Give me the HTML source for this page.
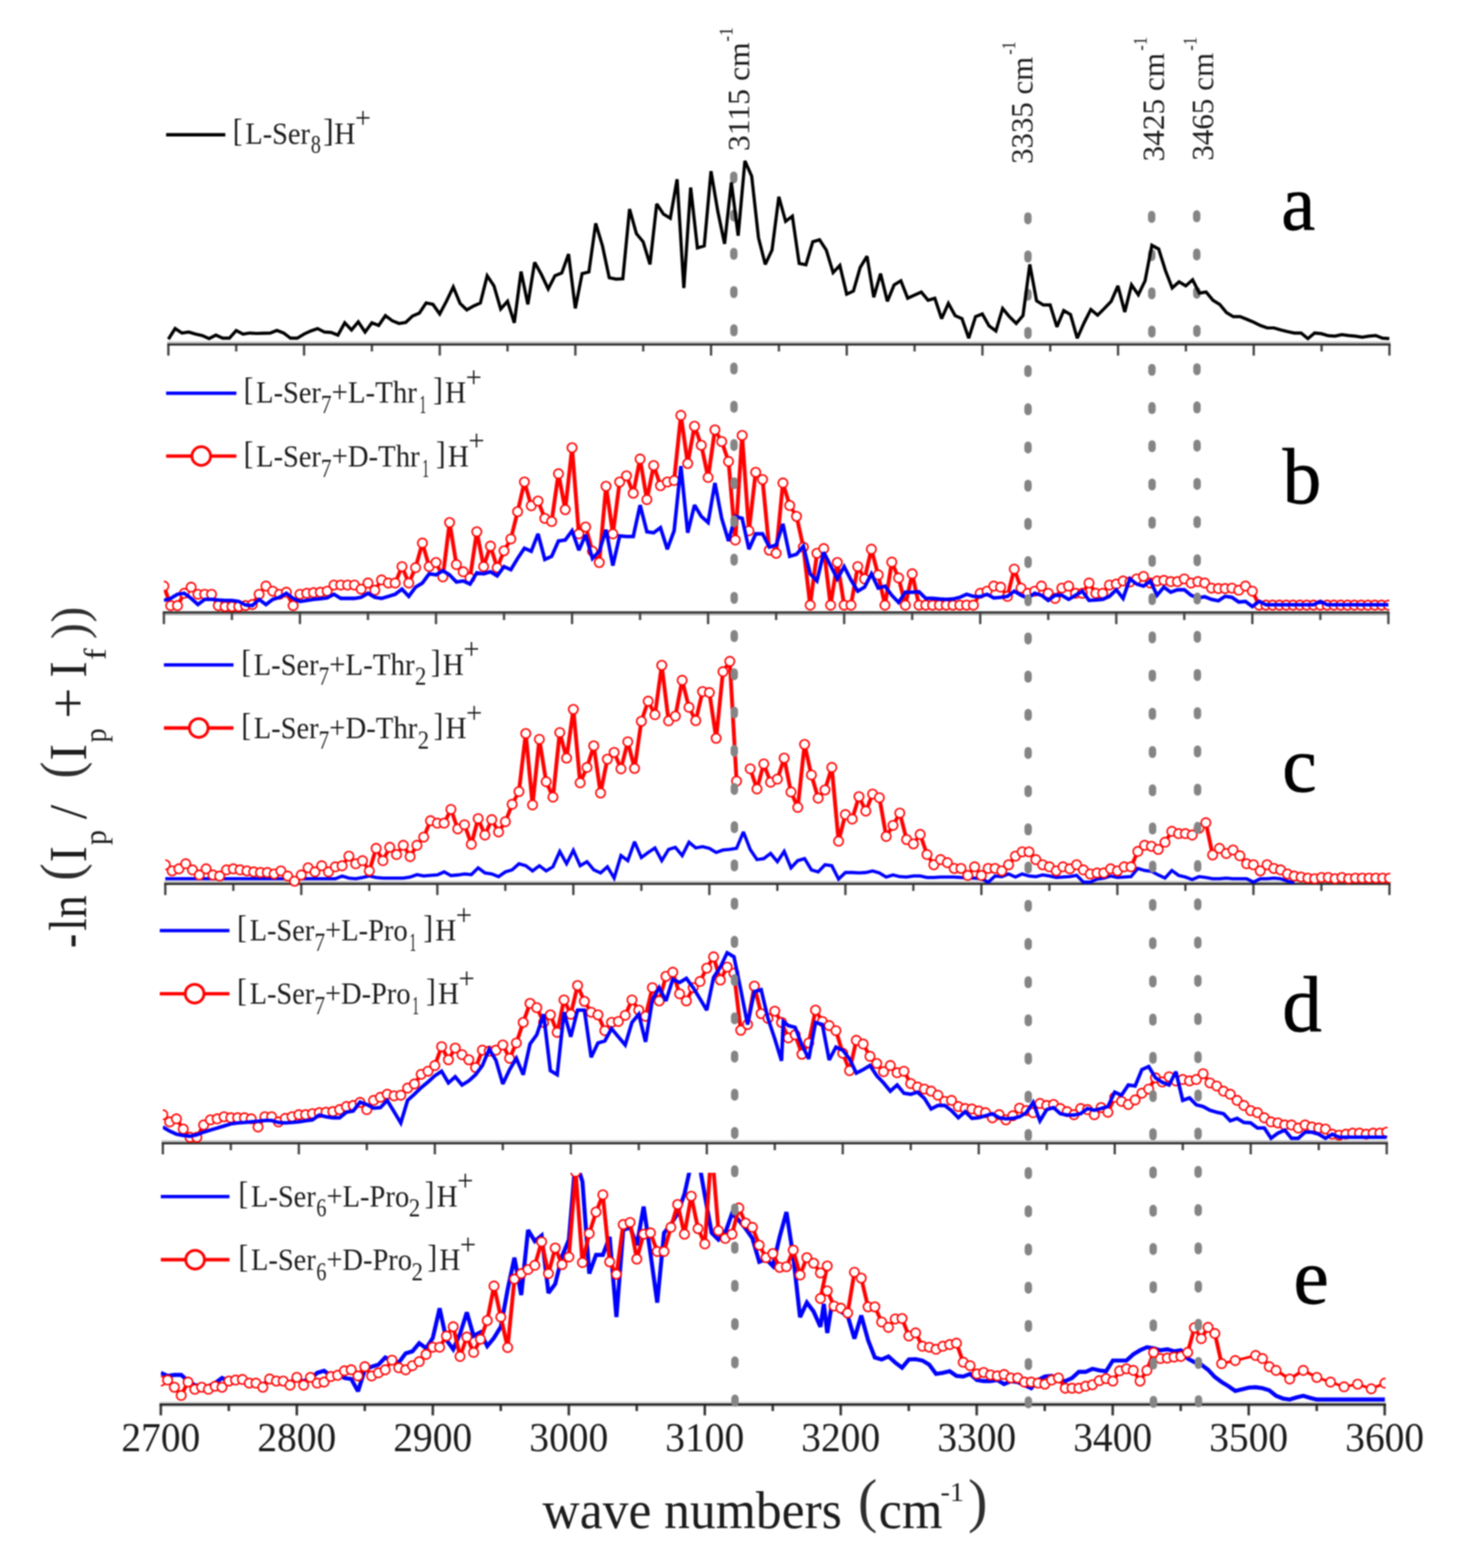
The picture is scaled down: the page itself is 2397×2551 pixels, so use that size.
<!DOCTYPE html>
<html lang="en"><head><meta charset="utf-8"><title>IRMPD spectra of serine octamer clusters</title>
<style>html,body{margin:0;padding:0;background:#fff}body{width:2397px;height:2551px;overflow:hidden}svg{display:block;filter:blur(1.2px)}</style>
</head><body>
<svg width="2397" height="2551" viewBox="0 0 2397 2551" role="img" aria-label="IRMPD spectra, panels a to e">
<rect width="2397" height="2551" fill="#fff"/>
<defs>
<clipPath id="cpa"><rect x="274.0" y="150.0" width="1988.5" height="421.5"/></clipPath>
<clipPath id="cpb"><rect x="266.7" y="600.0" width="1994.1" height="408.4"/></clipPath>
<clipPath id="cpc"><rect x="269.0" y="1010.0" width="1993.5" height="439.2"/></clipPath>
<clipPath id="cpd"><rect x="265.0" y="1450.0" width="1993.1" height="421.0"/></clipPath>
<clipPath id="cpe"><rect x="261.7" y="1908.0" width="1993.1" height="388.2"/></clipPath>
</defs>
<g id="pa">
<line x1="272.1" y1="557.1" x2="2262.9" y2="557.1" stroke="#c4c4c4" stroke-width="3.2"/><line x1="274.0" y1="560.4" x2="274.0" y2="578.5" stroke="#4a4a4a" stroke-width="3.9"/><line x1="384.4" y1="560.4" x2="384.4" y2="571.8" stroke="#4a4a4a" stroke-width="3.9"/><line x1="494.8" y1="560.4" x2="494.8" y2="578.5" stroke="#4a4a4a" stroke-width="3.9"/><line x1="605.2" y1="560.4" x2="605.2" y2="571.8" stroke="#4a4a4a" stroke-width="3.9"/><line x1="715.6" y1="560.4" x2="715.6" y2="578.5" stroke="#4a4a4a" stroke-width="3.9"/><line x1="825.9" y1="560.4" x2="825.9" y2="571.8" stroke="#4a4a4a" stroke-width="3.9"/><line x1="936.3" y1="560.4" x2="936.3" y2="578.5" stroke="#4a4a4a" stroke-width="3.9"/><line x1="1046.7" y1="560.4" x2="1046.7" y2="571.8" stroke="#4a4a4a" stroke-width="3.9"/><line x1="1157.1" y1="560.4" x2="1157.1" y2="578.5" stroke="#4a4a4a" stroke-width="3.9"/><line x1="1267.5" y1="560.4" x2="1267.5" y2="571.8" stroke="#4a4a4a" stroke-width="3.9"/><line x1="1377.9" y1="560.4" x2="1377.9" y2="578.5" stroke="#4a4a4a" stroke-width="3.9"/><line x1="1488.3" y1="560.4" x2="1488.3" y2="571.8" stroke="#4a4a4a" stroke-width="3.9"/><line x1="1598.7" y1="560.4" x2="1598.7" y2="578.5" stroke="#4a4a4a" stroke-width="3.9"/><line x1="1709.1" y1="560.4" x2="1709.1" y2="571.8" stroke="#4a4a4a" stroke-width="3.9"/><line x1="1819.4" y1="560.4" x2="1819.4" y2="578.5" stroke="#4a4a4a" stroke-width="3.9"/><line x1="1929.8" y1="560.4" x2="1929.8" y2="571.8" stroke="#4a4a4a" stroke-width="3.9"/><line x1="2040.2" y1="560.4" x2="2040.2" y2="578.5" stroke="#4a4a4a" stroke-width="3.9"/><line x1="2150.6" y1="560.4" x2="2150.6" y2="571.8" stroke="#4a4a4a" stroke-width="3.9"/><line x1="2261.0" y1="560.4" x2="2261.0" y2="578.5" stroke="#4a4a4a" stroke-width="3.9"/><line x1="272.1" y1="560.4" x2="2262.9" y2="560.4" stroke="#2c2c2c" stroke-width="3.5"/>
</g>
<g id="dots-a">
<rect x="1188.0" y="278.9" width="12.0" height="19.5" rx="6.0" ry="6.6" fill="#858585"/><rect x="1188.1" y="341.0" width="12.0" height="19.5" rx="6.0" ry="6.6" fill="#858585"/><rect x="1188.1" y="403.2" width="12.0" height="19.5" rx="6.0" ry="6.6" fill="#858585"/><rect x="1188.2" y="465.4" width="12.0" height="19.5" rx="6.0" ry="6.6" fill="#858585"/><rect x="1188.3" y="527.6" width="12.0" height="19.5" rx="6.0" ry="6.6" fill="#858585"/>
<rect x="1666.7" y="345.4" width="12.0" height="19.5" rx="6.0" ry="6.6" fill="#858585"/><rect x="1666.8" y="407.6" width="12.0" height="19.5" rx="6.0" ry="6.6" fill="#858585"/><rect x="1666.8" y="469.7" width="12.0" height="19.5" rx="6.0" ry="6.6" fill="#858585"/><rect x="1666.8" y="531.9" width="12.0" height="19.5" rx="6.0" ry="6.6" fill="#858585"/>
<rect x="1868.1" y="343.1" width="12.0" height="19.5" rx="6.0" ry="6.6" fill="#858585"/><rect x="1868.2" y="405.3" width="12.0" height="19.5" rx="6.0" ry="6.6" fill="#858585"/><rect x="1868.3" y="467.5" width="12.0" height="19.5" rx="6.0" ry="6.6" fill="#858585"/><rect x="1868.4" y="529.7" width="12.0" height="19.5" rx="6.0" ry="6.6" fill="#858585"/>
<rect x="1941.4" y="342.1" width="12.0" height="19.5" rx="6.0" ry="6.6" fill="#858585"/><rect x="1941.5" y="404.3" width="12.0" height="19.5" rx="6.0" ry="6.6" fill="#858585"/><rect x="1941.6" y="466.5" width="12.0" height="19.5" rx="6.0" ry="6.6" fill="#858585"/><rect x="1941.7" y="528.7" width="12.0" height="19.5" rx="6.0" ry="6.6" fill="#858585"/>
</g>
<polyline points="274.0,551.9 285.0,534.5 296.1,541.8 307.1,540.2 318.1,543.5 329.2,545.9 340.2,550.9 351.3,545.2 362.3,550.2 373.3,550.2 384.4,537.8 395.4,543.5 406.4,541.8 417.5,542.5 428.5,542.2 439.6,541.8 450.6,537.5 461.6,541.8 472.7,550.2 483.7,550.2 494.8,543.5 505.8,538.5 516.8,534.5 527.9,540.2 538.9,540.8 549.9,545.2 561.0,525.2 572.0,536.8 583.0,523.5 594.1,540.2 605.1,525.2 616.2,529.5 627.2,513.5 638.2,521.8 649.3,526.2 660.3,524.5 671.3,514.2 682.4,509.5 693.4,492.8 704.5,495.2 715.5,510.8 726.5,490.2 737.6,466.8 748.6,493.5 759.6,504.2 770.7,497.8 781.7,492.8 792.8,448.5 803.8,465.1 814.8,502.8 825.9,490.2 836.9,525.2 847.9,441.8 859.0,495.2 870.0,426.8 881.1,446.8 892.1,470.1 903.1,448.5 914.2,444.1 925.2,413.4 936.2,501.8 947.3,445.1 958.3,442.5 969.4,363.4 980.4,400.1 991.4,451.8 1002.5,454.1 1013.5,453.5 1024.5,340.1 1035.6,380.1 1046.6,393.4 1057.7,430.1 1068.7,331.7 1079.7,348.4 1090.8,355.1 1101.8,291.7 1112.8,468.5 1123.9,305.1 1134.9,403.4 1146.0,400.1 1157.0,278.4 1168.0,343.4 1179.1,396.8 1190.1,296.7 1201.2,383.4 1212.2,261.7 1223.2,286.7 1234.3,386.8 1245.3,430.1 1256.3,406.8 1267.4,320.1 1278.4,360.1 1289.4,351.7 1300.5,428.5 1311.5,430.8 1322.6,393.4 1333.6,390.1 1344.6,406.8 1355.7,443.5 1366.7,431.8 1377.8,478.5 1388.8,473.5 1399.8,435.1 1410.9,416.8 1421.9,483.5 1432.9,445.1 1444.0,490.2 1455.0,463.5 1466.0,456.8 1477.1,485.2 1488.1,480.1 1499.2,475.1 1510.2,488.5 1521.2,485.2 1532.3,518.5 1543.3,493.5 1554.3,513.5 1565.4,518.5 1576.4,550.2 1587.5,515.2 1598.5,510.8 1609.5,530.2 1620.6,538.5 1631.6,501.8 1642.6,515.2 1653.7,526.2 1664.7,513.5 1675.8,430.1 1686.8,489.5 1697.8,496.2 1708.9,496.2 1719.9,531.8 1731.0,505.2 1742.0,511.8 1753.0,550.2 1764.1,525.2 1775.1,503.5 1786.1,512.8 1797.2,501.8 1808.2,490.2 1819.2,465.1 1830.3,507.5 1841.3,463.5 1852.4,479.5 1863.4,456.8 1874.4,399.1 1885.5,405.1 1896.5,440.1 1907.5,468.5 1918.6,458.5 1929.6,465.1 1940.7,455.1 1951.7,476.8 1962.7,475.1 1973.8,488.5 1984.8,495.2 1995.8,508.5 2006.9,515.2 2017.9,515.2 2029.0,519.5 2040.0,524.2 2051.0,529.5 2062.1,533.5 2073.1,533.5 2084.1,536.8 2095.2,539.5 2106.2,541.8 2117.3,541.8 2128.3,550.9 2139.3,541.8 2150.4,542.9 2161.4,546.2 2172.4,546.9 2183.5,544.5 2194.5,545.9 2205.6,546.9 2216.6,548.5 2227.6,546.9 2238.7,545.9 2249.7,550.2 2260.8,550.9" fill="none" stroke="#000000" stroke-width="5.20" stroke-linejoin="miter" stroke-miterlimit="2.5" />
<g id="pb"><line x1="264.8" y1="999.4" x2="2261.2" y2="999.4" stroke="#b0b0b0" stroke-width="3.2"/><line x1="266.7" y1="996.2" x2="266.7" y2="1015.4" stroke="#4a4a4a" stroke-width="3.9"/><line x1="377.4" y1="996.2" x2="377.4" y2="1008.7" stroke="#4a4a4a" stroke-width="3.9"/><line x1="488.1" y1="996.2" x2="488.1" y2="1015.4" stroke="#4a4a4a" stroke-width="3.9"/><line x1="598.8" y1="996.2" x2="598.8" y2="1008.7" stroke="#4a4a4a" stroke-width="3.9"/><line x1="709.5" y1="996.2" x2="709.5" y2="1015.4" stroke="#4a4a4a" stroke-width="3.9"/><line x1="820.2" y1="996.2" x2="820.2" y2="1008.7" stroke="#4a4a4a" stroke-width="3.9"/><line x1="930.9" y1="996.2" x2="930.9" y2="1015.4" stroke="#4a4a4a" stroke-width="3.9"/><line x1="1041.6" y1="996.2" x2="1041.6" y2="1008.7" stroke="#4a4a4a" stroke-width="3.9"/><line x1="1152.3" y1="996.2" x2="1152.3" y2="1015.4" stroke="#4a4a4a" stroke-width="3.9"/><line x1="1263.0" y1="996.2" x2="1263.0" y2="1008.7" stroke="#4a4a4a" stroke-width="3.9"/><line x1="1373.7" y1="996.2" x2="1373.7" y2="1015.4" stroke="#4a4a4a" stroke-width="3.9"/><line x1="1484.4" y1="996.2" x2="1484.4" y2="1008.7" stroke="#4a4a4a" stroke-width="3.9"/><line x1="1595.1" y1="996.2" x2="1595.1" y2="1015.4" stroke="#4a4a4a" stroke-width="3.9"/><line x1="1705.8" y1="996.2" x2="1705.8" y2="1008.7" stroke="#4a4a4a" stroke-width="3.9"/><line x1="1816.5" y1="996.2" x2="1816.5" y2="1015.4" stroke="#4a4a4a" stroke-width="3.9"/><line x1="1927.2" y1="996.2" x2="1927.2" y2="1008.7" stroke="#4a4a4a" stroke-width="3.9"/><line x1="2037.9" y1="996.2" x2="2037.9" y2="1015.4" stroke="#4a4a4a" stroke-width="3.9"/><line x1="2148.6" y1="996.2" x2="2148.6" y2="1008.7" stroke="#4a4a4a" stroke-width="3.9"/><line x1="2259.3" y1="996.2" x2="2259.3" y2="1015.4" stroke="#4a4a4a" stroke-width="3.9"/><line x1="264.8" y1="996.2" x2="2261.2" y2="996.2" stroke="#343434" stroke-width="3.5"/><g clip-path="url(#cpb)"><polyline points="265.2,953.5 276.3,985.2 287.4,985.2 298.5,965.2 309.5,955.2 320.6,966.8 331.7,966.8 342.7,966.8 353.8,985.2 364.9,986.9 375.9,986.9 387.0,986.9 398.1,985.2 409.2,983.5 420.2,966.8 431.3,953.5 442.4,961.8 453.4,966.8 464.5,963.5 475.6,985.2 486.7,966.8 497.7,965.2 508.8,964.2 519.9,963.5 530.9,961.8 542.0,951.8 553.1,951.8 564.1,951.8 575.2,951.8 586.3,958.5 597.3,948.5 608.4,960.2 619.5,943.5 630.6,948.5 641.6,948.5 652.7,921.8 663.8,948.5 674.8,923.5 685.9,883.5 697.0,921.8 708.0,915.1 719.1,938.5 730.2,850.1 741.3,918.5 752.3,930.2 763.4,940.2 774.5,865.1 785.5,921.8 796.6,888.5 807.7,923.5 818.8,896.1 829.8,876.8 840.9,832.4 852.0,784.1 863.0,822.8 874.1,815.1 885.2,843.4 896.2,848.4 907.3,770.7 918.4,829.1 929.5,728.4 940.5,868.5 951.6,857.4 962.7,896.8 973.7,915.1 984.8,791.1 995.9,868.5 1006.9,784.1 1018.0,774.1 1029.1,802.4 1040.1,746.7 1051.2,812.8 1062.3,757.4 1073.4,790.1 1084.4,784.1 1095.5,781.7 1106.6,675.7 1117.6,754.1 1128.7,693.4 1139.8,724.4 1150.8,776.7 1161.9,699.4 1173.0,718.4 1184.1,750.7 1195.1,878.5 1206.2,708.4 1217.3,863.5 1228.3,768.4 1239.4,780.1 1250.5,895.1 1261.5,900.1 1272.6,785.7 1283.7,822.4 1294.8,840.1 1305.8,890.1 1316.9,984.5 1328.0,900.1 1339.0,892.5 1350.1,984.5 1361.2,915.1 1372.2,984.5 1383.3,984.5 1394.4,921.8 1405.5,941.8 1416.5,893.5 1427.6,935.2 1438.7,984.5 1449.7,914.5 1460.8,940.2 1471.9,984.5 1483.0,933.5 1494.0,984.5 1505.1,984.5 1516.2,984.5 1527.2,984.5 1538.3,984.5 1549.4,984.5 1560.4,984.5 1571.5,984.5 1582.6,984.5 1593.7,965.2 1604.7,961.8 1615.8,953.5 1626.9,955.2 1637.9,970.2 1649.0,925.8 1660.1,956.8 1671.1,965.2 1682.2,961.8 1693.3,953.5 1704.4,965.2 1715.4,973.5 1726.5,956.8 1737.6,953.5 1748.6,965.2 1759.7,965.2 1770.8,948.5 1781.8,965.2 1792.9,965.2 1804.0,951.8 1815.0,950.2 1826.1,945.2 1837.2,946.8 1848.3,941.8 1859.3,937.8 1870.4,948.5 1881.5,945.2 1892.5,944.2 1903.6,946.2 1914.7,946.2 1925.8,941.8 1936.8,948.5 1947.9,946.2 1959.0,948.5 1970.0,956.8 1981.1,957.5 1992.2,957.5 2003.2,956.8 2014.3,960.2 2025.4,953.5 2036.5,961.8 2047.5,984.5 2058.6,984.5 2069.7,984.5 2080.7,984.5 2091.8,984.5 2102.9,984.5 2113.9,984.5 2125.0,984.5 2136.1,984.5 2147.2,984.5 2158.2,984.5 2169.3,984.5 2180.4,984.5 2191.4,984.5 2202.5,984.5 2213.6,984.5 2224.6,984.5 2235.7,984.5 2246.8,984.5 2257.9,984.5" fill="none" stroke="#ff0000" stroke-width="3.40" stroke-linejoin="round" stroke-miterlimit="2.5" /><polyline points="268.1,953.5 279.2,985.2 290.3,985.2 301.4,965.2 312.4,955.2 323.5,966.8 334.6,966.8 345.6,966.8 356.7,985.2 367.8,986.9 378.8,986.9 389.9,986.9 401.0,985.2 412.1,983.5 423.1,966.8 434.2,953.5 445.3,961.8 456.3,966.8 467.4,963.5 478.5,985.2 489.6,966.8 500.6,965.2 511.7,964.2 522.8,963.5 533.8,961.8 544.9,951.8 556.0,951.8 567.0,951.8 578.1,951.8 589.2,958.5 600.2,948.5 611.3,960.2 622.4,943.5 633.5,948.5 644.5,948.5 655.6,921.8 666.7,948.5 677.7,923.5 688.8,883.5 699.9,921.8 711.0,915.1 722.0,938.5 733.1,850.1 744.2,918.5 755.2,930.2 766.3,940.2 777.4,865.1 788.4,921.8 799.5,888.5 810.6,923.5 821.7,896.1 832.7,876.8 843.8,832.4 854.9,784.1 865.9,822.8 877.0,815.1 888.1,843.4 899.1,848.4 910.2,770.7 921.3,829.1 932.4,728.4 943.4,868.5 954.5,857.4 965.6,896.8 976.6,915.1 987.7,791.1 998.8,868.5 1009.8,784.1 1020.9,774.1 1032.0,802.4 1043.0,746.7 1054.1,812.8 1065.2,757.4 1076.3,790.1 1087.3,784.1 1098.4,781.7 1109.5,675.7 1120.5,754.1 1131.6,693.4 1142.7,724.4 1153.8,776.7 1164.8,699.4 1175.9,718.4 1187.0,750.7 1198.0,878.5 1209.1,708.4 1220.2,863.5 1231.2,768.4 1242.3,780.1 1253.4,895.1 1264.5,900.1 1275.5,785.7 1286.6,822.4 1297.7,840.1 1308.7,890.1 1319.8,984.5 1330.9,900.1 1341.9,892.5 1353.0,984.5 1364.1,915.1 1375.2,984.5 1386.2,984.5 1397.3,921.8 1408.4,941.8 1419.4,893.5 1430.5,935.2 1441.6,984.5 1452.6,914.5 1463.7,940.2 1474.8,984.5 1485.9,933.5 1496.9,984.5 1508.0,984.5 1519.1,984.5 1530.1,984.5 1541.2,984.5 1552.3,984.5 1563.3,984.5 1574.4,984.5 1585.5,984.5 1596.6,965.2 1607.6,961.8 1618.7,953.5 1629.8,955.2 1640.8,970.2 1651.9,925.8 1663.0,956.8 1674.0,965.2 1685.1,961.8 1696.2,953.5 1707.3,965.2 1718.3,973.5 1729.4,956.8 1740.5,953.5 1751.5,965.2 1762.6,965.2 1773.7,948.5 1784.7,965.2 1795.8,965.2 1806.9,951.8 1818.0,950.2 1829.0,945.2 1840.1,946.8 1851.2,941.8 1862.2,937.8 1873.3,948.5 1884.4,945.2 1895.4,944.2 1906.5,946.2 1917.6,946.2 1928.7,941.8 1939.7,948.5 1950.8,946.2 1961.9,948.5 1972.9,956.8 1984.0,957.5 1995.1,957.5 2006.1,956.8 2017.2,960.2 2028.3,953.5 2039.4,961.8 2050.4,984.5 2061.5,984.5 2072.6,984.5 2083.6,984.5 2094.7,984.5 2105.8,984.5 2116.8,984.5 2127.9,984.5 2139.0,984.5 2150.0,984.5 2161.1,984.5 2172.2,984.5 2183.3,984.5 2194.3,984.5 2205.4,984.5 2216.5,984.5 2227.5,984.5 2238.6,984.5 2249.7,984.5 2260.8,984.5" fill="none" stroke="#ff0000" stroke-width="3.40" stroke-linejoin="round" stroke-miterlimit="2.5" /><g fill="#fff" stroke="#ff0000" stroke-width="2.60"><circle cx="266.7" cy="953.5" r="7.60"/><circle cx="277.8" cy="985.2" r="7.60"/><circle cx="288.8" cy="985.2" r="7.60"/><circle cx="299.9" cy="965.2" r="7.60"/><circle cx="311.0" cy="955.2" r="7.60"/><circle cx="322.1" cy="966.8" r="7.60"/><circle cx="333.1" cy="966.8" r="7.60"/><circle cx="344.2" cy="966.8" r="7.60"/><circle cx="355.3" cy="985.2" r="7.60"/><circle cx="366.3" cy="986.9" r="7.60"/><circle cx="377.4" cy="986.9" r="7.60"/><circle cx="388.5" cy="986.9" r="7.60"/><circle cx="399.5" cy="985.2" r="7.60"/><circle cx="410.6" cy="983.5" r="7.60"/><circle cx="421.7" cy="966.8" r="7.60"/><circle cx="432.8" cy="953.5" r="7.60"/><circle cx="443.8" cy="961.8" r="7.60"/><circle cx="454.9" cy="966.8" r="7.60"/><circle cx="466.0" cy="963.5" r="7.60"/><circle cx="477.0" cy="985.2" r="7.60"/><circle cx="488.1" cy="966.8" r="7.60"/><circle cx="499.2" cy="965.2" r="7.60"/><circle cx="510.2" cy="964.2" r="7.60"/><circle cx="521.3" cy="963.5" r="7.60"/><circle cx="532.4" cy="961.8" r="7.60"/><circle cx="543.5" cy="951.8" r="7.60"/><circle cx="554.5" cy="951.8" r="7.60"/><circle cx="565.6" cy="951.8" r="7.60"/><circle cx="576.7" cy="951.8" r="7.60"/><circle cx="587.7" cy="958.5" r="7.60"/><circle cx="598.8" cy="948.5" r="7.60"/><circle cx="609.9" cy="960.2" r="7.60"/><circle cx="620.9" cy="943.5" r="7.60"/><circle cx="632.0" cy="948.5" r="7.60"/><circle cx="643.1" cy="948.5" r="7.60"/><circle cx="654.1" cy="921.8" r="7.60"/><circle cx="665.2" cy="948.5" r="7.60"/><circle cx="676.3" cy="923.5" r="7.60"/><circle cx="687.4" cy="883.5" r="7.60"/><circle cx="698.4" cy="921.8" r="7.60"/><circle cx="709.5" cy="915.1" r="7.60"/><circle cx="720.6" cy="938.5" r="7.60"/><circle cx="731.6" cy="850.1" r="7.60"/><circle cx="742.7" cy="918.5" r="7.60"/><circle cx="753.8" cy="930.2" r="7.60"/><circle cx="764.9" cy="940.2" r="7.60"/><circle cx="775.9" cy="865.1" r="7.60"/><circle cx="787.0" cy="921.8" r="7.60"/><circle cx="798.1" cy="888.5" r="7.60"/><circle cx="809.1" cy="923.5" r="7.60"/><circle cx="820.2" cy="896.1" r="7.60"/><circle cx="831.3" cy="876.8" r="7.60"/><circle cx="842.3" cy="832.4" r="7.60"/><circle cx="853.4" cy="784.1" r="7.60"/><circle cx="864.5" cy="822.8" r="7.60"/><circle cx="875.5" cy="815.1" r="7.60"/><circle cx="886.6" cy="843.4" r="7.60"/><circle cx="897.7" cy="848.4" r="7.60"/><circle cx="908.8" cy="770.7" r="7.60"/><circle cx="919.8" cy="829.1" r="7.60"/><circle cx="930.9" cy="728.4" r="7.60"/><circle cx="942.0" cy="868.5" r="7.60"/><circle cx="953.0" cy="857.4" r="7.60"/><circle cx="964.1" cy="896.8" r="7.60"/><circle cx="975.2" cy="915.1" r="7.60"/><circle cx="986.2" cy="791.1" r="7.60"/><circle cx="997.3" cy="868.5" r="7.60"/><circle cx="1008.4" cy="784.1" r="7.60"/><circle cx="1019.5" cy="774.1" r="7.60"/><circle cx="1030.5" cy="802.4" r="7.60"/><circle cx="1041.6" cy="746.7" r="7.60"/><circle cx="1052.7" cy="812.8" r="7.60"/><circle cx="1063.7" cy="757.4" r="7.60"/><circle cx="1074.8" cy="790.1" r="7.60"/><circle cx="1085.9" cy="784.1" r="7.60"/><circle cx="1097.0" cy="781.7" r="7.60"/><circle cx="1108.0" cy="675.7" r="7.60"/><circle cx="1119.1" cy="754.1" r="7.60"/><circle cx="1130.2" cy="693.4" r="7.60"/><circle cx="1141.2" cy="724.4" r="7.60"/><circle cx="1152.3" cy="776.7" r="7.60"/><circle cx="1163.4" cy="699.4" r="7.60"/><circle cx="1174.4" cy="718.4" r="7.60"/><circle cx="1185.5" cy="750.7" r="7.60"/><circle cx="1196.6" cy="878.5" r="7.60"/><circle cx="1207.7" cy="708.4" r="7.60"/><circle cx="1218.7" cy="863.5" r="7.60"/><circle cx="1229.8" cy="768.4" r="7.60"/><circle cx="1240.9" cy="780.1" r="7.60"/><circle cx="1251.9" cy="895.1" r="7.60"/><circle cx="1263.0" cy="900.1" r="7.60"/><circle cx="1274.1" cy="785.7" r="7.60"/><circle cx="1285.1" cy="822.4" r="7.60"/><circle cx="1296.2" cy="840.1" r="7.60"/><circle cx="1307.3" cy="890.1" r="7.60"/><circle cx="1318.4" cy="984.5" r="7.60"/><circle cx="1329.4" cy="900.1" r="7.60"/><circle cx="1340.5" cy="892.5" r="7.60"/><circle cx="1351.6" cy="984.5" r="7.60"/><circle cx="1362.6" cy="915.1" r="7.60"/><circle cx="1373.7" cy="984.5" r="7.60"/><circle cx="1384.8" cy="984.5" r="7.60"/><circle cx="1395.8" cy="921.8" r="7.60"/><circle cx="1406.9" cy="941.8" r="7.60"/><circle cx="1418.0" cy="893.5" r="7.60"/><circle cx="1429.1" cy="935.2" r="7.60"/><circle cx="1440.1" cy="984.5" r="7.60"/><circle cx="1451.2" cy="914.5" r="7.60"/><circle cx="1462.3" cy="940.2" r="7.60"/><circle cx="1473.3" cy="984.5" r="7.60"/><circle cx="1484.4" cy="933.5" r="7.60"/><circle cx="1495.5" cy="984.5" r="7.60"/><circle cx="1506.5" cy="984.5" r="7.60"/><circle cx="1517.6" cy="984.5" r="7.60"/><circle cx="1528.7" cy="984.5" r="7.60"/><circle cx="1539.8" cy="984.5" r="7.60"/><circle cx="1550.8" cy="984.5" r="7.60"/><circle cx="1561.9" cy="984.5" r="7.60"/><circle cx="1573.0" cy="984.5" r="7.60"/><circle cx="1584.0" cy="984.5" r="7.60"/><circle cx="1595.1" cy="965.2" r="7.60"/><circle cx="1606.2" cy="961.8" r="7.60"/><circle cx="1617.2" cy="953.5" r="7.60"/><circle cx="1628.3" cy="955.2" r="7.60"/><circle cx="1639.4" cy="970.2" r="7.60"/><circle cx="1650.5" cy="925.8" r="7.60"/><circle cx="1661.5" cy="956.8" r="7.60"/><circle cx="1672.6" cy="965.2" r="7.60"/><circle cx="1683.7" cy="961.8" r="7.60"/><circle cx="1694.7" cy="953.5" r="7.60"/><circle cx="1705.8" cy="965.2" r="7.60"/><circle cx="1716.9" cy="973.5" r="7.60"/><circle cx="1727.9" cy="956.8" r="7.60"/><circle cx="1739.0" cy="953.5" r="7.60"/><circle cx="1750.1" cy="965.2" r="7.60"/><circle cx="1761.2" cy="965.2" r="7.60"/><circle cx="1772.2" cy="948.5" r="7.60"/><circle cx="1783.3" cy="965.2" r="7.60"/><circle cx="1794.4" cy="965.2" r="7.60"/><circle cx="1805.4" cy="951.8" r="7.60"/><circle cx="1816.5" cy="950.2" r="7.60"/><circle cx="1827.6" cy="945.2" r="7.60"/><circle cx="1838.6" cy="946.8" r="7.60"/><circle cx="1849.7" cy="941.8" r="7.60"/><circle cx="1860.8" cy="937.8" r="7.60"/><circle cx="1871.9" cy="948.5" r="7.60"/><circle cx="1882.9" cy="945.2" r="7.60"/><circle cx="1894.0" cy="944.2" r="7.60"/><circle cx="1905.1" cy="946.2" r="7.60"/><circle cx="1916.1" cy="946.2" r="7.60"/><circle cx="1927.2" cy="941.8" r="7.60"/><circle cx="1938.3" cy="948.5" r="7.60"/><circle cx="1949.3" cy="946.2" r="7.60"/><circle cx="1960.4" cy="948.5" r="7.60"/><circle cx="1971.5" cy="956.8" r="7.60"/><circle cx="1982.6" cy="957.5" r="7.60"/><circle cx="1993.6" cy="957.5" r="7.60"/><circle cx="2004.7" cy="956.8" r="7.60"/><circle cx="2015.8" cy="960.2" r="7.60"/><circle cx="2026.8" cy="953.5" r="7.60"/><circle cx="2037.9" cy="961.8" r="7.60"/><circle cx="2049.0" cy="984.5" r="7.60"/><circle cx="2060.0" cy="984.5" r="7.60"/><circle cx="2071.1" cy="984.5" r="7.60"/><circle cx="2082.2" cy="984.5" r="7.60"/><circle cx="2093.2" cy="984.5" r="7.60"/><circle cx="2104.3" cy="984.5" r="7.60"/><circle cx="2115.4" cy="984.5" r="7.60"/><circle cx="2126.5" cy="984.5" r="7.60"/><circle cx="2137.5" cy="984.5" r="7.60"/><circle cx="2148.6" cy="984.5" r="7.60"/><circle cx="2159.7" cy="984.5" r="7.60"/><circle cx="2170.7" cy="984.5" r="7.60"/><circle cx="2181.8" cy="984.5" r="7.60"/><circle cx="2192.9" cy="984.5" r="7.60"/><circle cx="2203.9" cy="984.5" r="7.60"/><circle cx="2215.0" cy="984.5" r="7.60"/><circle cx="2226.1" cy="984.5" r="7.60"/><circle cx="2237.2" cy="984.5" r="7.60"/><circle cx="2248.2" cy="984.5" r="7.60"/><circle cx="2259.3" cy="984.5" r="7.60"/></g><polyline points="266.7,976.8 277.8,973.5 288.8,966.8 299.9,965.2 311.0,973.5 322.1,983.5 333.1,975.2 344.2,975.2 355.3,976.2 366.3,976.8 377.4,976.8 388.5,978.5 399.5,984.2 410.6,985.2 421.7,975.2 432.8,983.5 443.8,975.2 454.9,971.8 466.0,965.2 477.0,973.5 488.1,978.5 499.2,976.8 510.2,975.2 521.3,974.2 532.4,972.8 543.5,966.8 554.5,973.5 565.6,973.5 576.7,973.5 587.7,971.8 598.8,965.2 609.9,971.8 620.9,973.5 632.0,970.2 643.1,966.8 654.1,958.5 665.2,970.2 676.3,955.2 687.4,948.5 698.4,933.5 709.5,935.2 720.6,928.5 731.6,935.2 742.7,946.8 753.8,945.2 764.9,950.2 775.9,931.8 787.0,933.5 798.1,930.2 809.1,936.8 820.2,921.8 831.3,926.8 842.3,908.5 853.4,891.8 864.5,896.8 875.5,868.5 886.6,910.1 897.7,905.1 908.8,880.1 919.8,878.5 930.9,863.5 942.0,895.1 953.0,870.1 964.1,908.5 975.2,896.8 986.2,861.8 997.3,920.1 1008.4,871.8 1019.5,872.8 1030.5,872.8 1041.6,821.8 1052.7,865.1 1063.7,866.8 1074.8,858.5 1085.9,893.5 1097.0,863.5 1108.0,758.4 1119.1,866.8 1130.2,821.8 1141.2,840.1 1152.3,850.1 1163.4,785.7 1174.4,843.4 1185.5,880.1 1196.6,840.1 1207.7,843.4 1218.7,893.5 1229.8,868.5 1240.9,868.5 1251.9,890.1 1263.0,886.8 1274.1,852.4 1285.1,905.1 1296.2,901.8 1307.3,888.5 1318.4,933.5 1329.4,945.2 1340.5,898.5 1351.6,920.1 1362.6,941.8 1373.7,921.8 1384.8,943.5 1395.8,961.8 1406.9,955.2 1418.0,933.5 1429.1,956.8 1440.1,953.5 1451.2,968.5 1462.3,980.2 1473.3,963.5 1484.4,963.5 1495.5,962.8 1506.5,973.5 1517.6,973.5 1528.7,974.5 1539.8,975.2 1550.8,974.5 1561.9,971.8 1573.0,966.8 1584.0,970.2 1595.1,970.8 1606.2,966.8 1617.2,972.8 1628.3,971.8 1639.4,970.2 1650.5,961.8 1661.5,968.5 1672.6,973.5 1683.7,965.2 1694.7,968.5 1705.8,976.8 1716.9,968.5 1727.9,968.5 1739.0,975.2 1750.1,968.5 1761.2,961.8 1772.2,976.8 1783.3,976.2 1794.4,975.2 1805.4,970.2 1816.5,959.5 1827.6,973.5 1838.6,941.8 1849.7,950.2 1860.8,953.5 1871.9,945.2 1882.9,968.5 1894.0,955.2 1905.1,963.5 1916.1,959.5 1927.2,959.5 1938.3,968.5 1949.3,972.8 1960.4,970.8 1971.5,975.2 1982.6,977.5 1993.6,970.2 2004.7,971.8 2015.8,979.5 2026.8,978.5 2037.9,986.9 2049.0,978.5 2060.0,983.9 2071.1,983.9 2082.2,983.9 2093.2,983.9 2104.3,983.9 2115.4,983.9 2126.5,983.9 2137.5,983.9 2148.6,978.8 2159.7,983.9 2170.7,983.9 2181.8,983.9 2192.9,983.9 2203.9,983.9 2215.0,983.9 2226.1,983.9 2237.2,983.9 2248.2,983.9 2259.3,983.9" fill="none" stroke="#0000ff" stroke-width="5.80" stroke-linejoin="miter" stroke-miterlimit="2.5" /></g></g>
<g id="pc"><line x1="267.1" y1="1434.8" x2="2262.9" y2="1434.8" stroke="#c4c4c4" stroke-width="3.2"/><line x1="269.0" y1="1438.1" x2="269.0" y2="1456.2" stroke="#4a4a4a" stroke-width="3.9"/><line x1="379.7" y1="1438.1" x2="379.7" y2="1449.5" stroke="#4a4a4a" stroke-width="3.9"/><line x1="490.3" y1="1438.1" x2="490.3" y2="1456.2" stroke="#4a4a4a" stroke-width="3.9"/><line x1="601.0" y1="1438.1" x2="601.0" y2="1449.5" stroke="#4a4a4a" stroke-width="3.9"/><line x1="711.7" y1="1438.1" x2="711.7" y2="1456.2" stroke="#4a4a4a" stroke-width="3.9"/><line x1="822.3" y1="1438.1" x2="822.3" y2="1449.5" stroke="#4a4a4a" stroke-width="3.9"/><line x1="933.0" y1="1438.1" x2="933.0" y2="1456.2" stroke="#4a4a4a" stroke-width="3.9"/><line x1="1043.7" y1="1438.1" x2="1043.7" y2="1449.5" stroke="#4a4a4a" stroke-width="3.9"/><line x1="1154.3" y1="1438.1" x2="1154.3" y2="1456.2" stroke="#4a4a4a" stroke-width="3.9"/><line x1="1265.0" y1="1438.1" x2="1265.0" y2="1449.5" stroke="#4a4a4a" stroke-width="3.9"/><line x1="1375.7" y1="1438.1" x2="1375.7" y2="1456.2" stroke="#4a4a4a" stroke-width="3.9"/><line x1="1486.3" y1="1438.1" x2="1486.3" y2="1449.5" stroke="#4a4a4a" stroke-width="3.9"/><line x1="1597.0" y1="1438.1" x2="1597.0" y2="1456.2" stroke="#4a4a4a" stroke-width="3.9"/><line x1="1707.7" y1="1438.1" x2="1707.7" y2="1449.5" stroke="#4a4a4a" stroke-width="3.9"/><line x1="1818.3" y1="1438.1" x2="1818.3" y2="1456.2" stroke="#4a4a4a" stroke-width="3.9"/><line x1="1929.0" y1="1438.1" x2="1929.0" y2="1449.5" stroke="#4a4a4a" stroke-width="3.9"/><line x1="2039.7" y1="1438.1" x2="2039.7" y2="1456.2" stroke="#4a4a4a" stroke-width="3.9"/><line x1="2150.3" y1="1438.1" x2="2150.3" y2="1449.5" stroke="#4a4a4a" stroke-width="3.9"/><line x1="2261.0" y1="1438.1" x2="2261.0" y2="1456.2" stroke="#4a4a4a" stroke-width="3.9"/><line x1="267.1" y1="1438.1" x2="2262.9" y2="1438.1" stroke="#2c2c2c" stroke-width="3.5"/><g clip-path="url(#cpc)"><polyline points="269.0,1429.6 280.1,1429.6 291.1,1429.6 302.2,1429.6 313.3,1429.6 324.3,1429.6 335.4,1429.6 346.5,1429.6 357.5,1429.6 368.6,1429.6 379.7,1429.6 390.7,1429.6 401.8,1429.6 412.9,1429.6 423.9,1429.6 435.0,1429.6 446.1,1429.6 457.1,1429.6 468.2,1429.6 479.3,1429.6 490.3,1429.6 501.4,1429.6 512.5,1429.6 523.5,1429.6 534.6,1429.6 545.7,1429.6 556.7,1425.2 567.8,1428.6 578.9,1429.6 589.9,1427.6 601.0,1425.2 612.1,1427.6 623.1,1428.6 634.2,1428.6 645.3,1428.6 656.3,1428.6 667.4,1426.9 678.5,1422.9 689.5,1425.2 700.6,1424.2 711.7,1423.5 722.7,1418.5 733.8,1424.5 744.9,1423.5 755.9,1421.9 767.0,1422.9 778.1,1411.9 789.1,1420.2 800.2,1421.9 811.3,1426.2 822.4,1418.5 833.4,1415.2 844.5,1405.2 855.6,1408.5 866.6,1416.9 877.7,1408.5 888.8,1416.9 899.8,1410.2 910.9,1385.2 922.0,1405.2 933.0,1383.5 944.1,1408.5 955.2,1401.9 966.2,1415.2 977.3,1420.2 988.4,1410.2 999.4,1428.6 1010.5,1391.9 1021.6,1400.2 1032.6,1369.5 1043.7,1395.2 1054.8,1386.9 1065.8,1379.5 1076.9,1400.2 1088.0,1381.9 1099.0,1378.5 1110.1,1391.9 1121.2,1370.2 1132.2,1379.5 1143.3,1377.5 1154.4,1380.2 1165.4,1386.9 1176.5,1382.9 1187.6,1381.9 1198.6,1380.2 1209.7,1353.5 1220.8,1381.9 1231.8,1398.5 1242.9,1396.9 1254.0,1388.5 1265.0,1401.9 1276.1,1385.2 1287.2,1411.9 1298.2,1400.2 1309.3,1396.9 1320.4,1415.2 1331.4,1418.5 1342.5,1406.9 1353.6,1408.5 1364.6,1430.2 1375.7,1419.5 1386.8,1419.5 1397.8,1420.2 1408.9,1419.5 1420.0,1416.9 1431.0,1420.2 1442.1,1426.9 1453.2,1423.5 1464.2,1426.2 1475.3,1426.9 1486.4,1425.2 1497.4,1425.2 1508.5,1427.6 1519.6,1427.6 1530.6,1426.9 1541.7,1426.9 1552.8,1426.9 1563.8,1427.6 1574.9,1428.6 1586.0,1428.6 1597.0,1429.6 1608.1,1435.2 1619.2,1425.2 1630.2,1426.2 1641.3,1421.9 1652.4,1426.9 1663.4,1421.9 1674.5,1425.2 1685.6,1426.2 1696.6,1423.5 1707.7,1425.2 1718.8,1427.6 1729.8,1426.9 1740.9,1426.2 1752.0,1424.2 1763.0,1435.2 1774.1,1435.2 1785.2,1430.2 1796.2,1428.6 1807.3,1425.2 1818.4,1427.6 1829.4,1426.9 1840.5,1426.2 1851.6,1412.9 1862.6,1416.2 1873.7,1417.5 1884.8,1423.5 1895.8,1428.6 1906.9,1416.2 1918.0,1424.2 1929.0,1426.9 1940.1,1430.9 1951.2,1426.2 1962.3,1427.6 1973.3,1429.6 1984.4,1429.6 1995.5,1428.6 2006.5,1429.6 2017.6,1429.6 2028.7,1429.6 2039.7,1435.2 2050.8,1429.6 2061.9,1429.6 2072.9,1428.6 2084.0,1429.6 2095.1,1433.6 2106.1,1436.2" fill="none" stroke="#0000ff" stroke-width="5.30" stroke-linejoin="miter" stroke-miterlimit="2.5" /><polyline points="267.6,1406.9 278.6,1416.9 289.7,1413.5 300.8,1405.2 311.8,1415.2 322.9,1423.5 334.0,1413.5 345.0,1423.5 356.1,1425.2 367.2,1415.2 378.2,1413.5 389.3,1415.2 400.4,1416.9 411.4,1418.5 422.5,1419.5 433.6,1419.5 444.6,1421.9 455.7,1416.9 466.8,1425.2 477.8,1433.6 488.9,1423.5 500.0,1411.9 511.0,1418.5 522.1,1408.5 533.2,1418.5 544.2,1410.2 555.3,1408.5 566.4,1392.9 577.4,1405.2 588.5,1400.2 599.6,1416.9 610.6,1380.2 621.7,1400.2 632.8,1378.5 643.8,1390.2 654.9,1375.2 666.0,1393.5 677.0,1375.2 688.1,1361.8 699.2,1335.2 710.2,1339.2 721.3,1339.2 732.4,1316.8 743.4,1348.5 754.5,1341.8 765.6,1373.5 776.6,1331.8 787.7,1358.5 798.8,1333.5 809.8,1353.5 820.9,1336.8 832.0,1308.5 843.0,1287.8 854.1,1193.4 865.2,1309.5 876.2,1202.8 887.3,1271.8 898.4,1296.8 909.4,1191.8 920.5,1233.4 931.6,1154.1 942.6,1273.5 953.7,1248.5 964.8,1213.4 975.8,1290.1 986.9,1235.1 998.0,1224.1 1009.0,1250.8 1020.1,1206.8 1031.2,1250.1 1042.2,1173.4 1053.3,1140.7 1064.4,1162.7 1075.4,1082.4 1086.5,1172.7 1097.6,1165.1 1108.6,1106.7 1119.7,1150.7 1130.8,1172.4 1141.8,1125.1 1152.9,1126.7 1164.0,1201.1 1175.0,1092.7 1186.1,1076.0 1197.2,1270.8" fill="none" stroke="#ff0000" stroke-width="3.40" stroke-linejoin="round" stroke-miterlimit="2.5" /><polyline points="270.4,1406.9 281.5,1416.9 292.6,1413.5 303.7,1405.2 314.7,1415.2 325.8,1423.5 336.9,1413.5 347.9,1423.5 359.0,1425.2 370.1,1415.2 381.1,1413.5 392.2,1415.2 403.3,1416.9 414.3,1418.5 425.4,1419.5 436.5,1419.5 447.5,1421.9 458.6,1416.9 469.7,1425.2 480.7,1433.6 491.8,1423.5 502.9,1411.9 513.9,1418.5 525.0,1408.5 536.1,1418.5 547.1,1410.2 558.2,1408.5 569.3,1392.9 580.3,1405.2 591.4,1400.2 602.5,1416.9 613.5,1380.2 624.6,1400.2 635.7,1378.5 646.7,1390.2 657.8,1375.2 668.9,1393.5 679.9,1375.2 691.0,1361.8 702.1,1335.2 713.1,1339.2 724.2,1339.2 735.3,1316.8 746.3,1348.5 757.4,1341.8 768.5,1373.5 779.5,1331.8 790.6,1358.5 801.7,1333.5 812.7,1353.5 823.8,1336.8 834.9,1308.5 845.9,1287.8 857.0,1193.4 868.1,1309.5 879.1,1202.8 890.2,1271.8 901.3,1296.8 912.3,1191.8 923.4,1233.4 934.5,1154.1 945.5,1273.5 956.6,1248.5 967.7,1213.4 978.7,1290.1 989.8,1235.1 1000.9,1224.1 1011.9,1250.8 1023.0,1206.8 1034.1,1250.1 1045.1,1173.4 1056.2,1140.7 1067.3,1162.7 1078.3,1082.4 1089.4,1172.7 1100.5,1165.1 1111.5,1106.7 1122.6,1150.7 1133.7,1172.4 1144.7,1125.1 1155.8,1126.7 1166.9,1201.1 1177.9,1092.7 1189.0,1076.0 1200.1,1270.8" fill="none" stroke="#ff0000" stroke-width="3.40" stroke-linejoin="round" stroke-miterlimit="2.5" /><polyline points="1219.3,1250.8 1230.4,1283.5 1241.4,1242.8 1252.5,1272.5 1263.6,1267.5 1274.6,1233.4 1285.7,1288.5 1296.8,1313.5 1307.8,1211.1 1318.9,1260.8 1330.0,1298.5 1341.0,1285.1 1352.1,1248.5 1363.2,1368.5 1374.2,1325.2 1385.3,1332.5 1396.4,1296.1 1407.5,1319.5 1418.5,1291.8 1429.6,1297.8 1440.7,1360.8 1451.7,1342.8 1462.8,1322.8 1473.9,1365.9 1484.9,1372.9 1496.0,1357.5 1507.1,1390.2 1518.1,1406.9 1529.2,1398.5 1540.3,1403.5 1551.3,1412.9 1562.4,1412.9 1573.5,1424.2 1584.5,1410.2 1595.6,1424.2 1606.7,1412.9 1617.7,1412.9 1628.8,1416.9 1639.9,1406.9 1650.9,1392.9 1662.0,1385.9 1673.1,1385.9 1684.1,1398.5 1695.2,1406.9 1706.3,1410.2 1717.3,1416.9 1728.4,1410.2 1739.5,1413.5 1750.5,1406.9 1761.6,1415.2 1772.7,1421.9 1783.7,1420.2 1794.8,1420.2 1805.9,1413.5 1816.9,1416.9 1828.0,1410.2 1839.1,1410.2 1850.1,1385.2 1861.2,1375.2 1872.3,1376.9 1883.3,1381.9 1894.4,1370.2 1905.5,1352.5 1916.5,1356.2 1927.6,1356.2 1938.7,1358.5 1949.7,1347.5 1960.8,1338.5 1971.9,1390.9 1982.9,1380.2 1994.0,1388.5 2005.1,1382.9 2016.1,1392.2 2027.2,1405.2 2038.3,1406.9 2049.3,1416.9 2060.4,1406.9 2071.5,1412.9 2082.5,1415.2 2093.6,1421.9 2104.7,1425.2 2115.7,1426.9 2126.8,1428.6 2137.9,1429.6 2148.9,1427.6 2160.0,1427.6 2171.1,1429.6 2182.1,1427.6 2193.2,1429.6 2204.3,1428.6 2215.3,1428.6 2226.4,1428.6 2237.5,1428.6 2248.5,1428.6 2259.6,1428.6" fill="none" stroke="#ff0000" stroke-width="3.40" stroke-linejoin="round" stroke-miterlimit="2.5" /><polyline points="1222.2,1250.8 1233.3,1283.5 1244.3,1242.8 1255.4,1272.5 1266.5,1267.5 1277.5,1233.4 1288.6,1288.5 1299.7,1313.5 1310.7,1211.1 1321.8,1260.8 1332.9,1298.5 1343.9,1285.1 1355.0,1248.5 1366.1,1368.5 1377.2,1325.2 1388.2,1332.5 1399.3,1296.1 1410.4,1319.5 1421.4,1291.8 1432.5,1297.8 1443.6,1360.8 1454.6,1342.8 1465.7,1322.8 1476.8,1365.9 1487.8,1372.9 1498.9,1357.5 1510.0,1390.2 1521.0,1406.9 1532.1,1398.5 1543.2,1403.5 1554.2,1412.9 1565.3,1412.9 1576.4,1424.2 1587.4,1410.2 1598.5,1424.2 1609.6,1412.9 1620.6,1412.9 1631.7,1416.9 1642.8,1406.9 1653.8,1392.9 1664.9,1385.9 1676.0,1385.9 1687.0,1398.5 1698.1,1406.9 1709.2,1410.2 1720.2,1416.9 1731.3,1410.2 1742.4,1413.5 1753.4,1406.9 1764.5,1415.2 1775.6,1421.9 1786.6,1420.2 1797.7,1420.2 1808.8,1413.5 1819.8,1416.9 1830.9,1410.2 1842.0,1410.2 1853.0,1385.2 1864.1,1375.2 1875.2,1376.9 1886.2,1381.9 1897.3,1370.2 1908.4,1352.5 1919.4,1356.2 1930.5,1356.2 1941.6,1358.5 1952.6,1347.5 1963.7,1338.5 1974.8,1390.9 1985.8,1380.2 1996.9,1388.5 2008.0,1382.9 2019.0,1392.2 2030.1,1405.2 2041.2,1406.9 2052.2,1416.9 2063.3,1406.9 2074.4,1412.9 2085.4,1415.2 2096.5,1421.9 2107.6,1425.2 2118.6,1426.9 2129.7,1428.6 2140.8,1429.6 2151.8,1427.6 2162.9,1427.6 2174.0,1429.6 2185.0,1427.6 2196.1,1429.6 2207.2,1428.6 2218.2,1428.6 2229.3,1428.6 2240.4,1428.6 2251.4,1428.6 2262.5,1428.6" fill="none" stroke="#ff0000" stroke-width="3.40" stroke-linejoin="round" stroke-miterlimit="2.5" /><g fill="#fff" stroke="#ff0000" stroke-width="2.60"><circle cx="269.0" cy="1406.9" r="7.60"/><circle cx="280.1" cy="1416.9" r="7.60"/><circle cx="291.1" cy="1413.5" r="7.60"/><circle cx="302.2" cy="1405.2" r="7.60"/><circle cx="313.3" cy="1415.2" r="7.60"/><circle cx="324.3" cy="1423.5" r="7.60"/><circle cx="335.4" cy="1413.5" r="7.60"/><circle cx="346.5" cy="1423.5" r="7.60"/><circle cx="357.5" cy="1425.2" r="7.60"/><circle cx="368.6" cy="1415.2" r="7.60"/><circle cx="379.7" cy="1413.5" r="7.60"/><circle cx="390.7" cy="1415.2" r="7.60"/><circle cx="401.8" cy="1416.9" r="7.60"/><circle cx="412.9" cy="1418.5" r="7.60"/><circle cx="423.9" cy="1419.5" r="7.60"/><circle cx="435.0" cy="1419.5" r="7.60"/><circle cx="446.1" cy="1421.9" r="7.60"/><circle cx="457.1" cy="1416.9" r="7.60"/><circle cx="468.2" cy="1425.2" r="7.60"/><circle cx="479.3" cy="1433.6" r="7.60"/><circle cx="490.3" cy="1423.5" r="7.60"/><circle cx="501.4" cy="1411.9" r="7.60"/><circle cx="512.5" cy="1418.5" r="7.60"/><circle cx="523.5" cy="1408.5" r="7.60"/><circle cx="534.6" cy="1418.5" r="7.60"/><circle cx="545.7" cy="1410.2" r="7.60"/><circle cx="556.7" cy="1408.5" r="7.60"/><circle cx="567.8" cy="1392.9" r="7.60"/><circle cx="578.9" cy="1405.2" r="7.60"/><circle cx="589.9" cy="1400.2" r="7.60"/><circle cx="601.0" cy="1416.9" r="7.60"/><circle cx="612.1" cy="1380.2" r="7.60"/><circle cx="623.1" cy="1400.2" r="7.60"/><circle cx="634.2" cy="1378.5" r="7.60"/><circle cx="645.3" cy="1390.2" r="7.60"/><circle cx="656.3" cy="1375.2" r="7.60"/><circle cx="667.4" cy="1393.5" r="7.60"/><circle cx="678.5" cy="1375.2" r="7.60"/><circle cx="689.5" cy="1361.8" r="7.60"/><circle cx="700.6" cy="1335.2" r="7.60"/><circle cx="711.7" cy="1339.2" r="7.60"/><circle cx="722.7" cy="1339.2" r="7.60"/><circle cx="733.8" cy="1316.8" r="7.60"/><circle cx="744.9" cy="1348.5" r="7.60"/><circle cx="755.9" cy="1341.8" r="7.60"/><circle cx="767.0" cy="1373.5" r="7.60"/><circle cx="778.1" cy="1331.8" r="7.60"/><circle cx="789.1" cy="1358.5" r="7.60"/><circle cx="800.2" cy="1333.5" r="7.60"/><circle cx="811.3" cy="1353.5" r="7.60"/><circle cx="822.4" cy="1336.8" r="7.60"/><circle cx="833.4" cy="1308.5" r="7.60"/><circle cx="844.5" cy="1287.8" r="7.60"/><circle cx="855.6" cy="1193.4" r="7.60"/><circle cx="866.6" cy="1309.5" r="7.60"/><circle cx="877.7" cy="1202.8" r="7.60"/><circle cx="888.8" cy="1271.8" r="7.60"/><circle cx="899.8" cy="1296.8" r="7.60"/><circle cx="910.9" cy="1191.8" r="7.60"/><circle cx="922.0" cy="1233.4" r="7.60"/><circle cx="933.0" cy="1154.1" r="7.60"/><circle cx="944.1" cy="1273.5" r="7.60"/><circle cx="955.2" cy="1248.5" r="7.60"/><circle cx="966.2" cy="1213.4" r="7.60"/><circle cx="977.3" cy="1290.1" r="7.60"/><circle cx="988.4" cy="1235.1" r="7.60"/><circle cx="999.4" cy="1224.1" r="7.60"/><circle cx="1010.5" cy="1250.8" r="7.60"/><circle cx="1021.6" cy="1206.8" r="7.60"/><circle cx="1032.6" cy="1250.1" r="7.60"/><circle cx="1043.7" cy="1173.4" r="7.60"/><circle cx="1054.8" cy="1140.7" r="7.60"/><circle cx="1065.8" cy="1162.7" r="7.60"/><circle cx="1076.9" cy="1082.4" r="7.60"/><circle cx="1088.0" cy="1172.7" r="7.60"/><circle cx="1099.0" cy="1165.1" r="7.60"/><circle cx="1110.1" cy="1106.7" r="7.60"/><circle cx="1121.2" cy="1150.7" r="7.60"/><circle cx="1132.2" cy="1172.4" r="7.60"/><circle cx="1143.3" cy="1125.1" r="7.60"/><circle cx="1154.4" cy="1126.7" r="7.60"/><circle cx="1165.4" cy="1201.1" r="7.60"/><circle cx="1176.5" cy="1092.7" r="7.60"/><circle cx="1187.6" cy="1076.0" r="7.60"/><circle cx="1198.6" cy="1270.8" r="7.60"/><circle cx="1220.8" cy="1250.8" r="7.60"/><circle cx="1231.8" cy="1283.5" r="7.60"/><circle cx="1242.9" cy="1242.8" r="7.60"/><circle cx="1254.0" cy="1272.5" r="7.60"/><circle cx="1265.0" cy="1267.5" r="7.60"/><circle cx="1276.1" cy="1233.4" r="7.60"/><circle cx="1287.2" cy="1288.5" r="7.60"/><circle cx="1298.2" cy="1313.5" r="7.60"/><circle cx="1309.3" cy="1211.1" r="7.60"/><circle cx="1320.4" cy="1260.8" r="7.60"/><circle cx="1331.4" cy="1298.5" r="7.60"/><circle cx="1342.5" cy="1285.1" r="7.60"/><circle cx="1353.6" cy="1248.5" r="7.60"/><circle cx="1364.6" cy="1368.5" r="7.60"/><circle cx="1375.7" cy="1325.2" r="7.60"/><circle cx="1386.8" cy="1332.5" r="7.60"/><circle cx="1397.8" cy="1296.1" r="7.60"/><circle cx="1408.9" cy="1319.5" r="7.60"/><circle cx="1420.0" cy="1291.8" r="7.60"/><circle cx="1431.0" cy="1297.8" r="7.60"/><circle cx="1442.1" cy="1360.8" r="7.60"/><circle cx="1453.2" cy="1342.8" r="7.60"/><circle cx="1464.2" cy="1322.8" r="7.60"/><circle cx="1475.3" cy="1365.9" r="7.60"/><circle cx="1486.4" cy="1372.9" r="7.60"/><circle cx="1497.4" cy="1357.5" r="7.60"/><circle cx="1508.5" cy="1390.2" r="7.60"/><circle cx="1519.6" cy="1406.9" r="7.60"/><circle cx="1530.6" cy="1398.5" r="7.60"/><circle cx="1541.7" cy="1403.5" r="7.60"/><circle cx="1552.8" cy="1412.9" r="7.60"/><circle cx="1563.8" cy="1412.9" r="7.60"/><circle cx="1574.9" cy="1424.2" r="7.60"/><circle cx="1586.0" cy="1410.2" r="7.60"/><circle cx="1597.0" cy="1424.2" r="7.60"/><circle cx="1608.1" cy="1412.9" r="7.60"/><circle cx="1619.2" cy="1412.9" r="7.60"/><circle cx="1630.2" cy="1416.9" r="7.60"/><circle cx="1641.3" cy="1406.9" r="7.60"/><circle cx="1652.4" cy="1392.9" r="7.60"/><circle cx="1663.4" cy="1385.9" r="7.60"/><circle cx="1674.5" cy="1385.9" r="7.60"/><circle cx="1685.6" cy="1398.5" r="7.60"/><circle cx="1696.6" cy="1406.9" r="7.60"/><circle cx="1707.7" cy="1410.2" r="7.60"/><circle cx="1718.8" cy="1416.9" r="7.60"/><circle cx="1729.8" cy="1410.2" r="7.60"/><circle cx="1740.9" cy="1413.5" r="7.60"/><circle cx="1752.0" cy="1406.9" r="7.60"/><circle cx="1763.0" cy="1415.2" r="7.60"/><circle cx="1774.1" cy="1421.9" r="7.60"/><circle cx="1785.2" cy="1420.2" r="7.60"/><circle cx="1796.2" cy="1420.2" r="7.60"/><circle cx="1807.3" cy="1413.5" r="7.60"/><circle cx="1818.4" cy="1416.9" r="7.60"/><circle cx="1829.4" cy="1410.2" r="7.60"/><circle cx="1840.5" cy="1410.2" r="7.60"/><circle cx="1851.6" cy="1385.2" r="7.60"/><circle cx="1862.6" cy="1375.2" r="7.60"/><circle cx="1873.7" cy="1376.9" r="7.60"/><circle cx="1884.8" cy="1381.9" r="7.60"/><circle cx="1895.8" cy="1370.2" r="7.60"/><circle cx="1906.9" cy="1352.5" r="7.60"/><circle cx="1918.0" cy="1356.2" r="7.60"/><circle cx="1929.0" cy="1356.2" r="7.60"/><circle cx="1940.1" cy="1358.5" r="7.60"/><circle cx="1951.2" cy="1347.5" r="7.60"/><circle cx="1962.3" cy="1338.5" r="7.60"/><circle cx="1973.3" cy="1390.9" r="7.60"/><circle cx="1984.4" cy="1380.2" r="7.60"/><circle cx="1995.5" cy="1388.5" r="7.60"/><circle cx="2006.5" cy="1382.9" r="7.60"/><circle cx="2017.6" cy="1392.2" r="7.60"/><circle cx="2028.7" cy="1405.2" r="7.60"/><circle cx="2039.7" cy="1406.9" r="7.60"/><circle cx="2050.8" cy="1416.9" r="7.60"/><circle cx="2061.9" cy="1406.9" r="7.60"/><circle cx="2072.9" cy="1412.9" r="7.60"/><circle cx="2084.0" cy="1415.2" r="7.60"/><circle cx="2095.1" cy="1421.9" r="7.60"/><circle cx="2106.1" cy="1425.2" r="7.60"/><circle cx="2117.2" cy="1426.9" r="7.60"/><circle cx="2128.3" cy="1428.6" r="7.60"/><circle cx="2139.3" cy="1429.6" r="7.60"/><circle cx="2150.4" cy="1427.6" r="7.60"/><circle cx="2161.5" cy="1427.6" r="7.60"/><circle cx="2172.5" cy="1429.6" r="7.60"/><circle cx="2183.6" cy="1427.6" r="7.60"/><circle cx="2194.7" cy="1429.6" r="7.60"/><circle cx="2205.7" cy="1428.6" r="7.60"/><circle cx="2216.8" cy="1428.6" r="7.60"/><circle cx="2227.9" cy="1428.6" r="7.60"/><circle cx="2238.9" cy="1428.6" r="7.60"/><circle cx="2250.0" cy="1428.6" r="7.60"/><circle cx="2261.1" cy="1428.6" r="7.60"/></g></g></g>
<g id="pd"><line x1="263.1" y1="1856.6" x2="2258.5" y2="1856.6" stroke="#c4c4c4" stroke-width="3.2"/><line x1="265.0" y1="1859.9" x2="265.0" y2="1878.0" stroke="#4a4a4a" stroke-width="3.9"/><line x1="375.6" y1="1859.9" x2="375.6" y2="1871.3" stroke="#4a4a4a" stroke-width="3.9"/><line x1="486.3" y1="1859.9" x2="486.3" y2="1878.0" stroke="#4a4a4a" stroke-width="3.9"/><line x1="596.9" y1="1859.9" x2="596.9" y2="1871.3" stroke="#4a4a4a" stroke-width="3.9"/><line x1="707.6" y1="1859.9" x2="707.6" y2="1878.0" stroke="#4a4a4a" stroke-width="3.9"/><line x1="818.2" y1="1859.9" x2="818.2" y2="1871.3" stroke="#4a4a4a" stroke-width="3.9"/><line x1="928.9" y1="1859.9" x2="928.9" y2="1878.0" stroke="#4a4a4a" stroke-width="3.9"/><line x1="1039.5" y1="1859.9" x2="1039.5" y2="1871.3" stroke="#4a4a4a" stroke-width="3.9"/><line x1="1150.2" y1="1859.9" x2="1150.2" y2="1878.0" stroke="#4a4a4a" stroke-width="3.9"/><line x1="1260.8" y1="1859.9" x2="1260.8" y2="1871.3" stroke="#4a4a4a" stroke-width="3.9"/><line x1="1371.4" y1="1859.9" x2="1371.4" y2="1878.0" stroke="#4a4a4a" stroke-width="3.9"/><line x1="1482.1" y1="1859.9" x2="1482.1" y2="1871.3" stroke="#4a4a4a" stroke-width="3.9"/><line x1="1592.7" y1="1859.9" x2="1592.7" y2="1878.0" stroke="#4a4a4a" stroke-width="3.9"/><line x1="1703.4" y1="1859.9" x2="1703.4" y2="1871.3" stroke="#4a4a4a" stroke-width="3.9"/><line x1="1814.0" y1="1859.9" x2="1814.0" y2="1878.0" stroke="#4a4a4a" stroke-width="3.9"/><line x1="1924.7" y1="1859.9" x2="1924.7" y2="1871.3" stroke="#4a4a4a" stroke-width="3.9"/><line x1="2035.3" y1="1859.9" x2="2035.3" y2="1878.0" stroke="#4a4a4a" stroke-width="3.9"/><line x1="2146.0" y1="1859.9" x2="2146.0" y2="1871.3" stroke="#4a4a4a" stroke-width="3.9"/><line x1="2256.6" y1="1859.9" x2="2256.6" y2="1878.0" stroke="#4a4a4a" stroke-width="3.9"/><line x1="263.1" y1="1859.9" x2="2258.5" y2="1859.9" stroke="#2c2c2c" stroke-width="3.5"/><g clip-path="url(#cpd)"><polyline points="263.6,1813.5 274.6,1825.2 285.7,1820.2 296.7,1836.9 307.8,1850.2 318.9,1850.2 329.9,1830.2 341.0,1821.9 352.1,1820.2 363.1,1816.9 374.2,1818.5 385.3,1818.5 396.3,1818.5 407.4,1820.2 418.4,1833.5 429.5,1816.9 440.6,1816.9 451.6,1825.2 462.7,1819.5 473.8,1816.9 484.8,1813.5 495.9,1813.5 507.0,1811.9 518.0,1810.2 529.1,1809.5 540.1,1808.5 551.2,1805.2 562.3,1800.2 573.3,1798.5 584.4,1793.5 595.5,1805.2 606.5,1790.2 617.6,1785.2 628.7,1780.2 639.7,1782.8 650.8,1781.8 661.9,1770.2 672.9,1763.5 684.0,1747.8 695.0,1742.8 706.1,1733.5 717.2,1702.8 728.2,1724.1 739.3,1705.1 750.4,1715.8 761.4,1724.1 772.5,1736.8 783.6,1708.5 794.6,1710.1 805.7,1708.5 816.8,1700.1 827.8,1721.8 838.9,1696.8 849.9,1663.4 861.0,1632.4 872.1,1639.4 883.1,1663.4 894.2,1651.1 905.3,1679.5 916.3,1626.8 927.4,1650.1 938.5,1603.4 949.5,1629.1 960.6,1646.8 971.6,1651.1 982.7,1676.8 993.8,1663.4 1004.8,1661.8 1015.9,1651.8 1027.0,1626.8 1038.0,1643.4 1049.1,1653.4 1060.2,1606.8 1071.2,1628.4 1082.3,1588.4 1093.3,1581.7 1104.4,1616.8 1115.5,1628.4 1126.5,1606.8 1137.6,1596.7 1148.7,1575.1 1159.7,1556.7 1170.8,1594.4 1181.9,1573.4 1192.9,1583.4 1204.0,1676.1 1215.1,1666.8 1226.1,1604.4 1237.2,1649.1 1248.2,1656.8 1259.3,1645.1 1270.4,1663.4 1281.4,1688.5 1292.5,1683.5 1303.6,1715.1 1314.6,1696.8 1325.7,1643.4 1336.8,1661.8 1347.8,1668.5 1358.9,1676.8 1370.0,1713.5 1381.0,1741.8 1392.1,1692.5 1403.1,1698.5 1414.2,1718.5 1425.3,1730.1 1436.3,1743.5 1447.4,1733.5 1458.5,1745.2 1469.5,1742.8 1480.6,1762.8 1491.7,1768.5 1502.7,1771.8 1513.8,1775.2 1524.8,1781.8 1535.9,1791.8 1547.0,1790.2 1558.0,1800.2 1569.1,1803.5 1580.2,1804.2 1591.2,1807.5 1602.3,1810.2 1613.4,1818.5 1624.4,1813.5 1635.5,1821.9 1646.5,1815.2 1657.6,1802.9 1668.7,1806.9 1679.7,1810.2 1690.8,1795.2 1701.9,1798.5 1712.9,1796.9 1724.0,1803.5 1735.1,1808.5 1746.1,1813.5 1757.2,1803.5 1768.3,1805.2 1779.3,1813.5 1790.4,1801.9 1801.4,1809.5 1812.5,1785.2 1823.6,1791.8 1834.6,1796.9 1845.7,1789.5 1856.8,1778.5 1867.8,1771.8 1878.9,1753.5 1890.0,1760.2 1901.0,1751.8 1912.1,1758.5 1923.1,1756.2 1934.2,1758.5 1945.3,1756.2 1956.3,1746.8 1967.4,1761.8 1978.5,1766.8 1989.5,1775.2 2000.6,1780.2 2011.7,1790.2 2022.7,1798.5 2033.8,1806.9 2044.9,1810.2 2055.9,1818.5 2067.0,1825.2 2078.0,1826.9 2089.1,1830.2 2100.2,1830.2 2111.2,1835.2 2122.3,1830.2 2133.4,1833.5 2144.4,1835.2 2155.5,1836.9 2166.6,1845.2 2177.6,1846.9 2188.7,1845.2 2199.8,1843.5 2210.8,1843.5 2221.9,1845.2 2232.9,1843.5 2244.0,1843.5 2255.1,1841.9" fill="none" stroke="#ff0000" stroke-width="3.40" stroke-linejoin="round" stroke-miterlimit="2.5" /><polyline points="266.4,1813.5 277.5,1825.2 288.6,1820.2 299.6,1836.9 310.7,1850.2 321.8,1850.2 332.8,1830.2 343.9,1821.9 355.0,1820.2 366.0,1816.9 377.1,1818.5 388.2,1818.5 399.2,1818.5 410.3,1820.2 421.3,1833.5 432.4,1816.9 443.5,1816.9 454.5,1825.2 465.6,1819.5 476.7,1816.9 487.7,1813.5 498.8,1813.5 509.9,1811.9 520.9,1810.2 532.0,1809.5 543.1,1808.5 554.1,1805.2 565.2,1800.2 576.2,1798.5 587.3,1793.5 598.4,1805.2 609.4,1790.2 620.5,1785.2 631.6,1780.2 642.6,1782.8 653.7,1781.8 664.8,1770.2 675.8,1763.5 686.9,1747.8 697.9,1742.8 709.0,1733.5 720.1,1702.8 731.1,1724.1 742.2,1705.1 753.3,1715.8 764.3,1724.1 775.4,1736.8 786.5,1708.5 797.5,1710.1 808.6,1708.5 819.7,1700.1 830.7,1721.8 841.8,1696.8 852.8,1663.4 863.9,1632.4 875.0,1639.4 886.0,1663.4 897.1,1651.1 908.2,1679.5 919.2,1626.8 930.3,1650.1 941.4,1603.4 952.4,1629.1 963.5,1646.8 974.5,1651.1 985.6,1676.8 996.7,1663.4 1007.7,1661.8 1018.8,1651.8 1029.9,1626.8 1040.9,1643.4 1052.0,1653.4 1063.1,1606.8 1074.1,1628.4 1085.2,1588.4 1096.2,1581.7 1107.3,1616.8 1118.4,1628.4 1129.4,1606.8 1140.5,1596.7 1151.6,1575.1 1162.6,1556.7 1173.7,1594.4 1184.8,1573.4 1195.8,1583.4 1206.9,1676.1 1218.0,1666.8 1229.0,1604.4 1240.1,1649.1 1251.1,1656.8 1262.2,1645.1 1273.3,1663.4 1284.3,1688.5 1295.4,1683.5 1306.5,1715.1 1317.5,1696.8 1328.6,1643.4 1339.7,1661.8 1350.7,1668.5 1361.8,1676.8 1372.9,1713.5 1383.9,1741.8 1395.0,1692.5 1406.0,1698.5 1417.1,1718.5 1428.2,1730.1 1439.2,1743.5 1450.3,1733.5 1461.4,1745.2 1472.4,1742.8 1483.5,1762.8 1494.6,1768.5 1505.6,1771.8 1516.7,1775.2 1527.7,1781.8 1538.8,1791.8 1549.9,1790.2 1560.9,1800.2 1572.0,1803.5 1583.1,1804.2 1594.1,1807.5 1605.2,1810.2 1616.3,1818.5 1627.3,1813.5 1638.4,1821.9 1649.5,1815.2 1660.5,1802.9 1671.6,1806.9 1682.6,1810.2 1693.7,1795.2 1704.8,1798.5 1715.8,1796.9 1726.9,1803.5 1738.0,1808.5 1749.0,1813.5 1760.1,1803.5 1771.2,1805.2 1782.2,1813.5 1793.3,1801.9 1804.3,1809.5 1815.4,1785.2 1826.5,1791.8 1837.5,1796.9 1848.6,1789.5 1859.7,1778.5 1870.7,1771.8 1881.8,1753.5 1892.9,1760.2 1903.9,1751.8 1915.0,1758.5 1926.0,1756.2 1937.1,1758.5 1948.2,1756.2 1959.2,1746.8 1970.3,1761.8 1981.4,1766.8 1992.4,1775.2 2003.5,1780.2 2014.6,1790.2 2025.6,1798.5 2036.7,1806.9 2047.8,1810.2 2058.8,1818.5 2069.9,1825.2 2080.9,1826.9 2092.0,1830.2 2103.1,1830.2 2114.1,1835.2 2125.2,1830.2 2136.3,1833.5 2147.3,1835.2 2158.4,1836.9 2169.5,1845.2 2180.5,1846.9 2191.6,1845.2 2202.6,1843.5 2213.7,1843.5 2224.8,1845.2 2235.8,1843.5 2246.9,1843.5 2258.0,1841.9" fill="none" stroke="#ff0000" stroke-width="3.40" stroke-linejoin="round" stroke-miterlimit="2.5" /><g fill="#fff" stroke="#ff0000" stroke-width="2.60"><circle cx="265.0" cy="1813.5" r="7.60"/><circle cx="276.1" cy="1825.2" r="7.60"/><circle cx="287.1" cy="1820.2" r="7.60"/><circle cx="298.2" cy="1836.9" r="7.60"/><circle cx="309.3" cy="1850.2" r="7.60"/><circle cx="320.3" cy="1850.2" r="7.60"/><circle cx="331.4" cy="1830.2" r="7.60"/><circle cx="342.4" cy="1821.9" r="7.60"/><circle cx="353.5" cy="1820.2" r="7.60"/><circle cx="364.6" cy="1816.9" r="7.60"/><circle cx="375.6" cy="1818.5" r="7.60"/><circle cx="386.7" cy="1818.5" r="7.60"/><circle cx="397.8" cy="1818.5" r="7.60"/><circle cx="408.8" cy="1820.2" r="7.60"/><circle cx="419.9" cy="1833.5" r="7.60"/><circle cx="431.0" cy="1816.9" r="7.60"/><circle cx="442.0" cy="1816.9" r="7.60"/><circle cx="453.1" cy="1825.2" r="7.60"/><circle cx="464.2" cy="1819.5" r="7.60"/><circle cx="475.2" cy="1816.9" r="7.60"/><circle cx="486.3" cy="1813.5" r="7.60"/><circle cx="497.3" cy="1813.5" r="7.60"/><circle cx="508.4" cy="1811.9" r="7.60"/><circle cx="519.5" cy="1810.2" r="7.60"/><circle cx="530.5" cy="1809.5" r="7.60"/><circle cx="541.6" cy="1808.5" r="7.60"/><circle cx="552.7" cy="1805.2" r="7.60"/><circle cx="563.7" cy="1800.2" r="7.60"/><circle cx="574.8" cy="1798.5" r="7.60"/><circle cx="585.9" cy="1793.5" r="7.60"/><circle cx="596.9" cy="1805.2" r="7.60"/><circle cx="608.0" cy="1790.2" r="7.60"/><circle cx="619.0" cy="1785.2" r="7.60"/><circle cx="630.1" cy="1780.2" r="7.60"/><circle cx="641.2" cy="1782.8" r="7.60"/><circle cx="652.2" cy="1781.8" r="7.60"/><circle cx="663.3" cy="1770.2" r="7.60"/><circle cx="674.4" cy="1763.5" r="7.60"/><circle cx="685.4" cy="1747.8" r="7.60"/><circle cx="696.5" cy="1742.8" r="7.60"/><circle cx="707.6" cy="1733.5" r="7.60"/><circle cx="718.6" cy="1702.8" r="7.60"/><circle cx="729.7" cy="1724.1" r="7.60"/><circle cx="740.8" cy="1705.1" r="7.60"/><circle cx="751.8" cy="1715.8" r="7.60"/><circle cx="762.9" cy="1724.1" r="7.60"/><circle cx="773.9" cy="1736.8" r="7.60"/><circle cx="785.0" cy="1708.5" r="7.60"/><circle cx="796.1" cy="1710.1" r="7.60"/><circle cx="807.1" cy="1708.5" r="7.60"/><circle cx="818.2" cy="1700.1" r="7.60"/><circle cx="829.3" cy="1721.8" r="7.60"/><circle cx="840.3" cy="1696.8" r="7.60"/><circle cx="851.4" cy="1663.4" r="7.60"/><circle cx="862.5" cy="1632.4" r="7.60"/><circle cx="873.5" cy="1639.4" r="7.60"/><circle cx="884.6" cy="1663.4" r="7.60"/><circle cx="895.6" cy="1651.1" r="7.60"/><circle cx="906.7" cy="1679.5" r="7.60"/><circle cx="917.8" cy="1626.8" r="7.60"/><circle cx="928.8" cy="1650.1" r="7.60"/><circle cx="939.9" cy="1603.4" r="7.60"/><circle cx="951.0" cy="1629.1" r="7.60"/><circle cx="962.0" cy="1646.8" r="7.60"/><circle cx="973.1" cy="1651.1" r="7.60"/><circle cx="984.2" cy="1676.8" r="7.60"/><circle cx="995.2" cy="1663.4" r="7.60"/><circle cx="1006.3" cy="1661.8" r="7.60"/><circle cx="1017.4" cy="1651.8" r="7.60"/><circle cx="1028.4" cy="1626.8" r="7.60"/><circle cx="1039.5" cy="1643.4" r="7.60"/><circle cx="1050.5" cy="1653.4" r="7.60"/><circle cx="1061.6" cy="1606.8" r="7.60"/><circle cx="1072.7" cy="1628.4" r="7.60"/><circle cx="1083.7" cy="1588.4" r="7.60"/><circle cx="1094.8" cy="1581.7" r="7.60"/><circle cx="1105.9" cy="1616.8" r="7.60"/><circle cx="1116.9" cy="1628.4" r="7.60"/><circle cx="1128.0" cy="1606.8" r="7.60"/><circle cx="1139.1" cy="1596.7" r="7.60"/><circle cx="1150.1" cy="1575.1" r="7.60"/><circle cx="1161.2" cy="1556.7" r="7.60"/><circle cx="1172.2" cy="1594.4" r="7.60"/><circle cx="1183.3" cy="1573.4" r="7.60"/><circle cx="1194.4" cy="1583.4" r="7.60"/><circle cx="1205.4" cy="1676.1" r="7.60"/><circle cx="1216.5" cy="1666.8" r="7.60"/><circle cx="1227.6" cy="1604.4" r="7.60"/><circle cx="1238.6" cy="1649.1" r="7.60"/><circle cx="1249.7" cy="1656.8" r="7.60"/><circle cx="1260.8" cy="1645.1" r="7.60"/><circle cx="1271.8" cy="1663.4" r="7.60"/><circle cx="1282.9" cy="1688.5" r="7.60"/><circle cx="1294.0" cy="1683.5" r="7.60"/><circle cx="1305.0" cy="1715.1" r="7.60"/><circle cx="1316.1" cy="1696.8" r="7.60"/><circle cx="1327.1" cy="1643.4" r="7.60"/><circle cx="1338.2" cy="1661.8" r="7.60"/><circle cx="1349.3" cy="1668.5" r="7.60"/><circle cx="1360.3" cy="1676.8" r="7.60"/><circle cx="1371.4" cy="1713.5" r="7.60"/><circle cx="1382.5" cy="1741.8" r="7.60"/><circle cx="1393.5" cy="1692.5" r="7.60"/><circle cx="1404.6" cy="1698.5" r="7.60"/><circle cx="1415.7" cy="1718.5" r="7.60"/><circle cx="1426.7" cy="1730.1" r="7.60"/><circle cx="1437.8" cy="1743.5" r="7.60"/><circle cx="1448.8" cy="1733.5" r="7.60"/><circle cx="1459.9" cy="1745.2" r="7.60"/><circle cx="1471.0" cy="1742.8" r="7.60"/><circle cx="1482.0" cy="1762.8" r="7.60"/><circle cx="1493.1" cy="1768.5" r="7.60"/><circle cx="1504.2" cy="1771.8" r="7.60"/><circle cx="1515.2" cy="1775.2" r="7.60"/><circle cx="1526.3" cy="1781.8" r="7.60"/><circle cx="1537.4" cy="1791.8" r="7.60"/><circle cx="1548.4" cy="1790.2" r="7.60"/><circle cx="1559.5" cy="1800.2" r="7.60"/><circle cx="1570.6" cy="1803.5" r="7.60"/><circle cx="1581.6" cy="1804.2" r="7.60"/><circle cx="1592.7" cy="1807.5" r="7.60"/><circle cx="1603.7" cy="1810.2" r="7.60"/><circle cx="1614.8" cy="1818.5" r="7.60"/><circle cx="1625.9" cy="1813.5" r="7.60"/><circle cx="1636.9" cy="1821.9" r="7.60"/><circle cx="1648.0" cy="1815.2" r="7.60"/><circle cx="1659.1" cy="1802.9" r="7.60"/><circle cx="1670.1" cy="1806.9" r="7.60"/><circle cx="1681.2" cy="1810.2" r="7.60"/><circle cx="1692.3" cy="1795.2" r="7.60"/><circle cx="1703.3" cy="1798.5" r="7.60"/><circle cx="1714.4" cy="1796.9" r="7.60"/><circle cx="1725.4" cy="1803.5" r="7.60"/><circle cx="1736.5" cy="1808.5" r="7.60"/><circle cx="1747.6" cy="1813.5" r="7.60"/><circle cx="1758.6" cy="1803.5" r="7.60"/><circle cx="1769.7" cy="1805.2" r="7.60"/><circle cx="1780.8" cy="1813.5" r="7.60"/><circle cx="1791.8" cy="1801.9" r="7.60"/><circle cx="1802.9" cy="1809.5" r="7.60"/><circle cx="1814.0" cy="1785.2" r="7.60"/><circle cx="1825.0" cy="1791.8" r="7.60"/><circle cx="1836.1" cy="1796.9" r="7.60"/><circle cx="1847.2" cy="1789.5" r="7.60"/><circle cx="1858.2" cy="1778.5" r="7.60"/><circle cx="1869.3" cy="1771.8" r="7.60"/><circle cx="1880.3" cy="1753.5" r="7.60"/><circle cx="1891.4" cy="1760.2" r="7.60"/><circle cx="1902.5" cy="1751.8" r="7.60"/><circle cx="1913.5" cy="1758.5" r="7.60"/><circle cx="1924.6" cy="1756.2" r="7.60"/><circle cx="1935.7" cy="1758.5" r="7.60"/><circle cx="1946.7" cy="1756.2" r="7.60"/><circle cx="1957.8" cy="1746.8" r="7.60"/><circle cx="1968.9" cy="1761.8" r="7.60"/><circle cx="1979.9" cy="1766.8" r="7.60"/><circle cx="1991.0" cy="1775.2" r="7.60"/><circle cx="2002.0" cy="1780.2" r="7.60"/><circle cx="2013.1" cy="1790.2" r="7.60"/><circle cx="2024.2" cy="1798.5" r="7.60"/><circle cx="2035.2" cy="1806.9" r="7.60"/><circle cx="2046.3" cy="1810.2" r="7.60"/><circle cx="2057.4" cy="1818.5" r="7.60"/><circle cx="2068.4" cy="1825.2" r="7.60"/><circle cx="2079.5" cy="1826.9" r="7.60"/><circle cx="2090.6" cy="1830.2" r="7.60"/><circle cx="2101.6" cy="1830.2" r="7.60"/><circle cx="2112.7" cy="1835.2" r="7.60"/><circle cx="2123.8" cy="1830.2" r="7.60"/><circle cx="2134.8" cy="1833.5" r="7.60"/><circle cx="2145.9" cy="1835.2" r="7.60"/><circle cx="2156.9" cy="1836.9" r="7.60"/><circle cx="2168.0" cy="1845.2" r="7.60"/><circle cx="2179.1" cy="1846.9" r="7.60"/><circle cx="2190.1" cy="1845.2" r="7.60"/><circle cx="2201.2" cy="1843.5" r="7.60"/><circle cx="2212.3" cy="1843.5" r="7.60"/><circle cx="2223.3" cy="1845.2" r="7.60"/><circle cx="2234.4" cy="1843.5" r="7.60"/><circle cx="2245.5" cy="1843.5" r="7.60"/><circle cx="2256.5" cy="1841.9" r="7.60"/></g><polyline points="265.0,1833.5 276.1,1840.2 287.1,1845.2 298.2,1847.5 309.3,1848.5 320.3,1846.2 331.4,1841.9 342.4,1838.5 353.5,1835.2 364.6,1831.9 375.6,1828.5 386.7,1826.9 397.8,1826.2 408.8,1825.2 419.9,1824.2 431.0,1822.9 442.0,1822.9 453.1,1826.2 464.2,1826.9 475.2,1826.2 486.3,1825.2 497.3,1823.5 508.4,1821.9 519.5,1814.2 530.5,1816.9 541.6,1818.5 552.7,1818.5 563.7,1809.5 574.8,1807.5 585.9,1792.9 596.9,1796.9 608.0,1802.9 619.0,1801.9 630.1,1790.2 641.2,1808.5 652.2,1826.9 663.3,1790.2 674.4,1780.2 685.4,1769.5 696.5,1760.2 707.6,1750.2 718.6,1742.8 729.7,1761.8 740.8,1751.8 751.8,1765.2 762.9,1758.5 773.9,1748.5 785.0,1733.5 796.1,1706.8 807.1,1725.1 818.2,1763.5 829.3,1740.2 840.3,1721.8 851.4,1748.5 862.5,1698.5 873.5,1683.5 884.6,1650.1 895.6,1741.8 906.7,1748.5 917.8,1646.8 928.8,1686.8 939.9,1643.4 951.0,1643.4 962.0,1720.1 973.1,1696.8 984.2,1693.5 995.2,1673.5 1006.3,1686.8 1017.4,1700.1 1028.4,1663.4 1039.5,1650.1 1050.5,1695.1 1061.6,1626.8 1072.7,1606.8 1083.7,1628.4 1094.8,1593.4 1105.9,1598.4 1116.9,1591.7 1128.0,1606.8 1139.1,1625.1 1150.1,1643.4 1161.2,1590.1 1172.2,1573.4 1183.3,1550.1 1194.4,1556.7 1205.4,1610.1 1216.5,1666.8 1227.6,1613.4 1238.6,1610.1 1249.7,1656.8 1260.8,1690.1 1271.8,1725.8 1274.6,1661.8 1282.9,1668.5 1294.0,1671.5 1305.0,1700.1 1316.1,1722.8 1327.1,1663.4 1338.2,1666.8 1349.3,1724.5 1360.3,1703.5 1371.4,1708.5 1382.5,1722.8 1393.5,1745.8 1404.6,1740.2 1415.7,1733.5 1426.7,1750.2 1437.8,1761.8 1448.8,1775.2 1459.9,1765.2 1471.0,1778.5 1482.0,1780.2 1493.1,1776.8 1504.2,1786.8 1515.2,1804.2 1526.3,1798.5 1537.4,1798.5 1548.4,1806.9 1559.5,1818.5 1570.6,1808.5 1581.6,1819.5 1592.7,1818.5 1603.7,1815.2 1614.8,1811.9 1625.9,1818.5 1636.9,1820.2 1648.0,1819.5 1659.1,1816.9 1670.1,1810.2 1681.2,1793.5 1692.3,1823.5 1703.3,1805.2 1714.4,1801.9 1725.4,1811.9 1736.5,1814.2 1747.6,1814.2 1758.6,1811.9 1769.7,1803.5 1780.8,1806.2 1791.8,1803.5 1802.9,1800.2 1814.0,1776.8 1825.0,1781.8 1836.1,1765.2 1847.2,1766.8 1858.2,1740.2 1869.3,1735.2 1880.3,1753.5 1891.4,1760.8 1902.5,1765.2 1913.5,1743.5 1924.6,1790.2 1935.7,1786.2 1946.7,1797.5 1957.8,1800.2 1968.9,1806.2 1979.9,1809.5 1991.0,1811.9 2002.0,1823.5 2013.1,1819.5 2024.2,1826.2 2035.2,1826.9 2046.3,1835.2 2057.4,1835.2 2068.4,1851.9 2079.5,1843.5 2090.6,1838.5 2101.6,1851.9 2112.7,1851.9 2123.8,1841.9 2134.8,1841.9 2145.9,1845.2 2156.9,1851.9 2168.0,1845.2 2179.1,1850.2 2190.1,1850.2 2201.2,1850.2 2212.3,1850.2 2223.3,1850.2 2234.4,1850.2 2245.5,1850.2 2256.5,1850.2" fill="none" stroke="#0000ff" stroke-width="5.80" stroke-linejoin="miter" stroke-miterlimit="2.5" /></g></g>
<g id="pe"><line x1="259.6" y1="2281.8" x2="2255.4" y2="2281.8" stroke="#d8d8d8" stroke-width="3.2"/><line x1="259.6" y1="2287.7" x2="2255.4" y2="2287.7" stroke="#d0d0d0" stroke-width="2.4"/><line x1="261.7" y1="2285.1" x2="261.7" y2="2302.7" stroke="#3a3a3a" stroke-width="4.2"/><line x1="372.3" y1="2285.1" x2="372.3" y2="2295.7" stroke="#3a3a3a" stroke-width="4.2"/><line x1="483.0" y1="2285.1" x2="483.0" y2="2302.7" stroke="#3a3a3a" stroke-width="4.2"/><line x1="593.6" y1="2285.1" x2="593.6" y2="2295.7" stroke="#3a3a3a" stroke-width="4.2"/><line x1="704.3" y1="2285.1" x2="704.3" y2="2302.7" stroke="#3a3a3a" stroke-width="4.2"/><line x1="814.9" y1="2285.1" x2="814.9" y2="2295.7" stroke="#3a3a3a" stroke-width="4.2"/><line x1="925.6" y1="2285.1" x2="925.6" y2="2302.7" stroke="#3a3a3a" stroke-width="4.2"/><line x1="1036.2" y1="2285.1" x2="1036.2" y2="2295.7" stroke="#3a3a3a" stroke-width="4.2"/><line x1="1146.9" y1="2285.1" x2="1146.9" y2="2302.7" stroke="#3a3a3a" stroke-width="4.2"/><line x1="1257.5" y1="2285.1" x2="1257.5" y2="2295.7" stroke="#3a3a3a" stroke-width="4.2"/><line x1="1368.1" y1="2285.1" x2="1368.1" y2="2302.7" stroke="#3a3a3a" stroke-width="4.2"/><line x1="1478.8" y1="2285.1" x2="1478.8" y2="2295.7" stroke="#3a3a3a" stroke-width="4.2"/><line x1="1589.4" y1="2285.1" x2="1589.4" y2="2302.7" stroke="#3a3a3a" stroke-width="4.2"/><line x1="1700.1" y1="2285.1" x2="1700.1" y2="2295.7" stroke="#3a3a3a" stroke-width="4.2"/><line x1="1810.7" y1="2285.1" x2="1810.7" y2="2302.7" stroke="#3a3a3a" stroke-width="4.2"/><line x1="1921.4" y1="2285.1" x2="1921.4" y2="2295.7" stroke="#3a3a3a" stroke-width="4.2"/><line x1="2032.0" y1="2285.1" x2="2032.0" y2="2302.7" stroke="#3a3a3a" stroke-width="4.2"/><line x1="2142.7" y1="2285.1" x2="2142.7" y2="2295.7" stroke="#3a3a3a" stroke-width="4.2"/><line x1="2253.3" y1="2285.1" x2="2253.3" y2="2302.7" stroke="#3a3a3a" stroke-width="4.2"/><line x1="259.6" y1="2285.1" x2="2255.4" y2="2285.1" stroke="#1c1c1c" stroke-width="3.5"/><g clip-path="url(#cpe)"><polyline points="261.7,2233.5 272.8,2238.5 283.8,2236.9 294.9,2236.9 306.0,2246.9 317.0,2253.5 328.1,2255.2 339.2,2255.2 350.2,2250.2 361.3,2241.9 372.4,2246.9 383.4,2246.9 394.5,2246.9 405.6,2248.5 416.6,2250.2 427.7,2251.9 438.8,2246.9 449.8,2246.9 460.9,2246.9 472.0,2248.5 483.0,2245.2 494.1,2246.9 505.2,2243.5 516.2,2233.5 527.3,2230.2 538.4,2238.5 549.4,2233.5 560.5,2241.9 571.5,2243.5 582.6,2263.5 593.7,2228.5 604.7,2223.5 615.8,2220.2 626.9,2208.5 637.9,2213.5 649.0,2216.8 660.1,2201.8 671.1,2198.5 682.2,2185.2 693.3,2193.5 704.3,2176.8 715.4,2128.5 726.5,2180.2 737.5,2195.2 748.6,2170.2 759.7,2135.1 770.7,2173.5 781.8,2167.6 792.9,2190.0 803.9,2176.6 815.0,2158.6 826.1,2097.9 837.1,2046.1 848.2,2106.9 859.3,2001.2 870.3,2019.2 881.4,2010.2 892.5,2103.5 903.5,2088.9 914.6,2043.9 925.7,2016.9 936.7,1886.5 947.8,1922.5 958.9,2072.0 969.9,2041.6 981.0,2041.6 992.1,2012.4 1003.1,2142.8 1014.2,2001.2 1025.3,1996.7 1036.3,2025.9 1047.4,1963.0 1058.5,2039.4 1069.5,2119.2 1080.6,2005.7 1091.7,1992.2 1102.7,1974.2 1113.8,1942.7 1124.8,1893.3 1135.9,1882.0 1147.0,1945.0 1158.0,2005.7 1169.1,2016.9 1180.2,2005.7 1191.2,1974.2 1202.3,1985.4 1213.4,1998.9 1224.4,2014.7 1235.5,2052.9 1246.6,2048.4 1257.6,2059.6 1268.7,2012.4 1279.8,1971.9 1290.8,2043.9 1301.9,2142.8 1313.0,2119.2 1324.0,2133.8 1335.1,2158.6 1340.6,2121.5 1346.2,2168.7 1352.8,2127.1 1357.2,2124.8 1368.3,2133.8 1379.4,2140.6 1390.4,2177.7 1401.5,2140.1 1412.6,2180.2 1423.6,2208.5 1434.7,2211.8 1445.8,2206.8 1456.8,2216.8 1467.9,2225.2 1479.0,2211.8 1490.0,2211.2 1501.1,2213.5 1512.2,2220.2 1523.2,2235.2 1534.3,2233.5 1545.4,2230.9 1556.4,2238.5 1567.5,2239.5 1578.6,2235.2 1589.6,2245.2 1600.7,2246.9 1611.8,2246.9 1622.8,2245.2 1633.9,2251.9 1645.0,2246.9 1656.0,2248.5 1667.1,2253.5 1678.1,2258.5 1689.2,2245.2 1700.3,2239.5 1711.3,2238.5 1722.4,2245.2 1733.5,2246.9 1744.5,2241.9 1755.6,2231.9 1766.7,2231.9 1777.7,2226.9 1788.8,2229.5 1799.9,2230.9 1810.9,2213.5 1822.0,2213.5 1833.1,2213.5 1844.1,2203.5 1855.2,2196.8 1866.3,2191.8 1877.3,2193.5 1888.4,2196.8 1899.5,2195.2 1910.5,2198.5 1921.6,2196.8 1932.7,2210.2 1943.7,2216.2 1954.8,2220.2 1965.9,2228.5 1976.9,2240.2 1988.0,2248.5 1999.1,2255.2 2010.1,2262.9 2021.2,2260.2 2032.3,2257.5 2043.3,2256.9 2054.4,2258.5 2065.5,2261.9 2076.5,2270.9 2087.6,2275.2 2098.7,2276.9 2109.7,2273.5 2120.8,2270.9 2131.9,2274.2 2142.9,2276.9 2154.0,2276.9 2165.1,2276.9 2176.1,2276.9 2187.2,2276.9 2198.2,2276.9 2209.3,2276.9 2220.4,2276.9 2231.4,2276.9 2242.5,2276.9 2253.6,2276.9" fill="none" stroke="#0000ff" stroke-width="6.60" stroke-linejoin="miter" stroke-miterlimit="2.5" /><polyline points="260.2,2246.9 271.3,2245.2 282.4,2256.9 293.4,2270.2 304.5,2248.5 315.6,2260.2 326.6,2256.9 337.7,2260.2 348.8,2255.2 359.8,2256.9 370.9,2246.9 382.0,2245.2 393.0,2244.2 404.1,2250.2 415.2,2250.2 426.2,2256.9 437.3,2243.5 448.4,2246.9 459.4,2246.9 470.5,2253.5 481.6,2240.9 492.6,2253.5 503.7,2240.9 514.8,2250.2 525.8,2248.5 536.9,2239.5 548.0,2237.5 559.0,2230.2 570.1,2228.5 581.2,2238.5 592.2,2223.5 603.3,2238.5 614.4,2233.5 625.4,2228.5 636.5,2212.8 647.6,2225.2 658.6,2228.5 669.7,2221.8 680.8,2215.2 691.8,2203.5 702.9,2191.8 714.0,2191.8 725.0,2173.5 736.1,2158.5 747.2,2206.8 758.2,2175.2 769.3,2200.2 780.4,2178.8 791.4,2148.4 802.5,2092.2 813.5,2142.8 824.6,2192.3 835.7,2081.0 846.7,2072.0 857.8,2065.3 868.9,2058.5 879.9,2020.3 891.0,2072.0 902.1,2030.4 913.1,2057.4 924.2,2045.0 935.3,1906.7 946.3,2054.0 957.4,2006.8 968.5,1971.9 979.5,1943.8 990.6,2052.9 1001.7,2073.1 1012.7,1992.2 1023.8,1988.8 1034.9,2048.4 1045.9,2007.9 1057.0,2005.7 1068.1,2036.0 1079.1,2036.0 1090.2,1996.7 1101.3,1959.6 1112.3,2007.9 1123.4,1946.1 1134.5,1998.9 1145.5,2023.7 1156.6,1866.3 1167.7,2002.3 1178.7,2014.7 1189.8,2007.9 1200.9,1965.2 1211.9,1989.9 1223.0,1996.7 1234.1,2025.9 1245.1,2046.1 1256.2,2039.4 1267.3,2061.9 1278.3,2060.8 1289.4,2033.8 1300.5,2074.3 1311.5,2046.1 1322.6,2055.1 1333.7,2070.9 1344.7,2059.6 1333.7,2112.5 1344.7,2100.1 1355.8,2124.8 1366.9,2128.2 1377.9,2136.1 1389.0,2069.8 1400.0,2079.4 1411.1,2126.1 1422.2,2126.1 1433.2,2150.8 1444.3,2159.5 1455.4,2145.8 1466.4,2145.1 1477.5,2173.5 1488.6,2168.5 1499.6,2190.2 1510.7,2191.8 1521.8,2195.2 1532.8,2190.2 1543.9,2187.5 1555.0,2185.2 1566.0,2216.2 1577.1,2221.8 1588.2,2235.2 1599.2,2232.9 1610.3,2236.9 1621.4,2238.5 1632.4,2236.2 1643.5,2241.9 1654.6,2241.9 1665.6,2248.5 1676.7,2248.5 1687.8,2250.2 1698.8,2251.9 1709.9,2245.2 1721.0,2241.9 1732.0,2258.5 1743.1,2258.5 1754.2,2258.5 1765.2,2255.2 1776.3,2252.9 1787.4,2246.2 1798.4,2242.9 1809.5,2246.9 1820.6,2230.2 1831.6,2226.9 1842.7,2229.5 1853.8,2246.9 1864.8,2229.5 1875.9,2200.2 1887.0,2210.2 1898.0,2209.5 1909.1,2207.8 1920.2,2206.8 1931.2,2200.2 1942.3,2160.1 1953.3,2177.8 1964.4,2159.5 1975.5,2169.5 1986.5,2218.5 2008.7,2213.5 2041.9,2205.2 2052.9,2210.2 2064.0,2223.5 2075.1,2229.5 2097.2,2243.5 2119.3,2229.5 2141.5,2240.9 2163.6,2248.5 2185.7,2256.2 2207.9,2251.9 2230.0,2259.5 2252.1,2250.2" fill="none" stroke="#ff0000" stroke-width="3.40" stroke-linejoin="round" stroke-miterlimit="2.5" /><polyline points="263.1,2246.9 274.2,2245.2 285.3,2256.9 296.3,2270.2 307.4,2248.5 318.5,2260.2 329.5,2256.9 340.6,2260.2 351.7,2255.2 362.7,2256.9 373.8,2246.9 384.9,2245.2 395.9,2244.2 407.0,2250.2 418.1,2250.2 429.1,2256.9 440.2,2243.5 451.3,2246.9 462.3,2246.9 473.4,2253.5 484.5,2240.9 495.5,2253.5 506.6,2240.9 517.7,2250.2 528.7,2248.5 539.8,2239.5 550.9,2237.5 561.9,2230.2 573.0,2228.5 584.1,2238.5 595.1,2223.5 606.2,2238.5 617.3,2233.5 628.3,2228.5 639.4,2212.8 650.5,2225.2 661.5,2228.5 672.6,2221.8 683.7,2215.2 694.7,2203.5 705.8,2191.8 716.9,2191.8 727.9,2173.5 739.0,2158.5 750.1,2206.8 761.1,2175.2 772.2,2200.2 783.3,2178.8 794.3,2148.4 805.4,2092.2 816.5,2142.8 827.5,2192.3 838.6,2081.0 849.6,2072.0 860.7,2065.3 871.8,2058.5 882.8,2020.3 893.9,2072.0 905.0,2030.4 916.0,2057.4 927.1,2045.0 938.2,1906.7 949.2,2054.0 960.3,2006.8 971.4,1971.9 982.4,1943.8 993.5,2052.9 1004.6,2073.1 1015.6,1992.2 1026.7,1988.8 1037.8,2048.4 1048.8,2007.9 1059.9,2005.7 1071.0,2036.0 1082.0,2036.0 1093.1,1996.7 1104.2,1959.6 1115.2,2007.9 1126.3,1946.1 1137.4,1998.9 1148.4,2023.7 1159.5,1866.3 1170.6,2002.3 1181.6,2014.7 1192.7,2007.9 1203.8,1965.2 1214.8,1989.9 1225.9,1996.7 1237.0,2025.9 1248.0,2046.1 1259.1,2039.4 1270.2,2061.9 1281.2,2060.8 1292.3,2033.8 1303.4,2074.3 1314.4,2046.1 1325.5,2055.1 1336.6,2070.9 1347.6,2059.6 1336.6,2112.5 1347.6,2100.1 1358.7,2124.8 1369.8,2128.2 1380.8,2136.1 1391.9,2069.8 1402.9,2079.4 1414.0,2126.1 1425.1,2126.1 1436.1,2150.8 1447.2,2159.5 1458.3,2145.8 1469.3,2145.1 1480.4,2173.5 1491.5,2168.5 1502.5,2190.2 1513.6,2191.8 1524.7,2195.2 1535.7,2190.2 1546.8,2187.5 1557.9,2185.2 1568.9,2216.2 1580.0,2221.8 1591.1,2235.2 1602.1,2232.9 1613.2,2236.9 1624.3,2238.5 1635.3,2236.2 1646.4,2241.9 1657.5,2241.9 1668.5,2248.5 1679.6,2248.5 1690.7,2250.2 1701.7,2251.9 1712.8,2245.2 1723.9,2241.9 1734.9,2258.5 1746.0,2258.5 1757.1,2258.5 1768.1,2255.2 1779.2,2252.9 1790.3,2246.2 1801.3,2242.9 1812.4,2246.9 1823.5,2230.2 1834.5,2226.9 1845.6,2229.5 1856.7,2246.9 1867.7,2229.5 1878.8,2200.2 1889.9,2210.2 1900.9,2209.5 1912.0,2207.8 1923.1,2206.8 1934.1,2200.2 1945.2,2160.1 1956.2,2177.8 1967.3,2159.5 1978.4,2169.5 1989.4,2218.5 2011.6,2213.5 2044.8,2205.2 2055.8,2210.2 2066.9,2223.5 2078.0,2229.5 2100.1,2243.5 2122.2,2229.5 2144.4,2240.9 2166.5,2248.5 2188.6,2256.2 2210.8,2251.9 2232.9,2259.5 2255.0,2250.2" fill="none" stroke="#ff0000" stroke-width="3.40" stroke-linejoin="round" stroke-miterlimit="2.5" /><g fill="#fff" stroke="#ff0000" stroke-width="2.60"><circle cx="261.7" cy="2246.9" r="7.60"/><circle cx="272.8" cy="2245.2" r="7.60"/><circle cx="283.8" cy="2256.9" r="7.60"/><circle cx="294.9" cy="2270.2" r="7.60"/><circle cx="306.0" cy="2248.5" r="7.60"/><circle cx="317.0" cy="2260.2" r="7.60"/><circle cx="328.1" cy="2256.9" r="7.60"/><circle cx="339.2" cy="2260.2" r="7.60"/><circle cx="350.2" cy="2255.2" r="7.60"/><circle cx="361.3" cy="2256.9" r="7.60"/><circle cx="372.4" cy="2246.9" r="7.60"/><circle cx="383.4" cy="2245.2" r="7.60"/><circle cx="394.5" cy="2244.2" r="7.60"/><circle cx="405.6" cy="2250.2" r="7.60"/><circle cx="416.6" cy="2250.2" r="7.60"/><circle cx="427.7" cy="2256.9" r="7.60"/><circle cx="438.8" cy="2243.5" r="7.60"/><circle cx="449.8" cy="2246.9" r="7.60"/><circle cx="460.9" cy="2246.9" r="7.60"/><circle cx="472.0" cy="2253.5" r="7.60"/><circle cx="483.0" cy="2240.9" r="7.60"/><circle cx="494.1" cy="2253.5" r="7.60"/><circle cx="505.2" cy="2240.9" r="7.60"/><circle cx="516.2" cy="2250.2" r="7.60"/><circle cx="527.3" cy="2248.5" r="7.60"/><circle cx="538.4" cy="2239.5" r="7.60"/><circle cx="549.4" cy="2237.5" r="7.60"/><circle cx="560.5" cy="2230.2" r="7.60"/><circle cx="571.5" cy="2228.5" r="7.60"/><circle cx="582.6" cy="2238.5" r="7.60"/><circle cx="593.7" cy="2223.5" r="7.60"/><circle cx="604.7" cy="2238.5" r="7.60"/><circle cx="615.8" cy="2233.5" r="7.60"/><circle cx="626.9" cy="2228.5" r="7.60"/><circle cx="637.9" cy="2212.8" r="7.60"/><circle cx="649.0" cy="2225.2" r="7.60"/><circle cx="660.1" cy="2228.5" r="7.60"/><circle cx="671.1" cy="2221.8" r="7.60"/><circle cx="682.2" cy="2215.2" r="7.60"/><circle cx="693.3" cy="2203.5" r="7.60"/><circle cx="704.3" cy="2191.8" r="7.60"/><circle cx="715.4" cy="2191.8" r="7.60"/><circle cx="726.5" cy="2173.5" r="7.60"/><circle cx="737.5" cy="2158.5" r="7.60"/><circle cx="748.6" cy="2206.8" r="7.60"/><circle cx="759.7" cy="2175.2" r="7.60"/><circle cx="770.7" cy="2200.2" r="7.60"/><circle cx="781.8" cy="2178.8" r="7.60"/><circle cx="792.9" cy="2148.4" r="7.60"/><circle cx="803.9" cy="2092.2" r="7.60"/><circle cx="815.0" cy="2142.8" r="7.60"/><circle cx="826.1" cy="2192.3" r="7.60"/><circle cx="837.1" cy="2081.0" r="7.60"/><circle cx="848.2" cy="2072.0" r="7.60"/><circle cx="859.3" cy="2065.3" r="7.60"/><circle cx="870.3" cy="2058.5" r="7.60"/><circle cx="881.4" cy="2020.3" r="7.60"/><circle cx="892.5" cy="2072.0" r="7.60"/><circle cx="903.5" cy="2030.4" r="7.60"/><circle cx="914.6" cy="2057.4" r="7.60"/><circle cx="925.7" cy="2045.0" r="7.60"/><circle cx="936.7" cy="1906.7" r="7.60"/><circle cx="947.8" cy="2054.0" r="7.60"/><circle cx="958.9" cy="2006.8" r="7.60"/><circle cx="969.9" cy="1971.9" r="7.60"/><circle cx="981.0" cy="1943.8" r="7.60"/><circle cx="992.1" cy="2052.9" r="7.60"/><circle cx="1003.1" cy="2073.1" r="7.60"/><circle cx="1014.2" cy="1992.2" r="7.60"/><circle cx="1025.3" cy="1988.8" r="7.60"/><circle cx="1036.3" cy="2048.4" r="7.60"/><circle cx="1047.4" cy="2007.9" r="7.60"/><circle cx="1058.5" cy="2005.7" r="7.60"/><circle cx="1069.5" cy="2036.0" r="7.60"/><circle cx="1080.6" cy="2036.0" r="7.60"/><circle cx="1091.7" cy="1996.7" r="7.60"/><circle cx="1102.7" cy="1959.6" r="7.60"/><circle cx="1113.8" cy="2007.9" r="7.60"/><circle cx="1124.8" cy="1946.1" r="7.60"/><circle cx="1135.9" cy="1998.9" r="7.60"/><circle cx="1147.0" cy="2023.7" r="7.60"/><circle cx="1158.0" cy="1866.3" r="7.60"/><circle cx="1169.1" cy="2002.3" r="7.60"/><circle cx="1180.2" cy="2014.7" r="7.60"/><circle cx="1191.2" cy="2007.9" r="7.60"/><circle cx="1202.3" cy="1965.2" r="7.60"/><circle cx="1213.4" cy="1989.9" r="7.60"/><circle cx="1224.4" cy="1996.7" r="7.60"/><circle cx="1235.5" cy="2025.9" r="7.60"/><circle cx="1246.6" cy="2046.1" r="7.60"/><circle cx="1257.6" cy="2039.4" r="7.60"/><circle cx="1268.7" cy="2061.9" r="7.60"/><circle cx="1279.8" cy="2060.8" r="7.60"/><circle cx="1290.8" cy="2033.8" r="7.60"/><circle cx="1301.9" cy="2074.3" r="7.60"/><circle cx="1313.0" cy="2046.1" r="7.60"/><circle cx="1324.0" cy="2055.1" r="7.60"/><circle cx="1335.1" cy="2070.9" r="7.60"/><circle cx="1346.2" cy="2059.6" r="7.60"/><circle cx="1335.1" cy="2112.5" r="7.60"/><circle cx="1346.2" cy="2100.1" r="7.60"/><circle cx="1357.2" cy="2124.8" r="7.60"/><circle cx="1368.3" cy="2128.2" r="7.60"/><circle cx="1379.4" cy="2136.1" r="7.60"/><circle cx="1390.4" cy="2069.8" r="7.60"/><circle cx="1401.5" cy="2079.4" r="7.60"/><circle cx="1412.6" cy="2126.1" r="7.60"/><circle cx="1423.6" cy="2126.1" r="7.60"/><circle cx="1434.7" cy="2150.8" r="7.60"/><circle cx="1445.8" cy="2159.5" r="7.60"/><circle cx="1456.8" cy="2145.8" r="7.60"/><circle cx="1467.9" cy="2145.1" r="7.60"/><circle cx="1479.0" cy="2173.5" r="7.60"/><circle cx="1490.0" cy="2168.5" r="7.60"/><circle cx="1501.1" cy="2190.2" r="7.60"/><circle cx="1512.2" cy="2191.8" r="7.60"/><circle cx="1523.2" cy="2195.2" r="7.60"/><circle cx="1534.3" cy="2190.2" r="7.60"/><circle cx="1545.4" cy="2187.5" r="7.60"/><circle cx="1556.4" cy="2185.2" r="7.60"/><circle cx="1567.5" cy="2216.2" r="7.60"/><circle cx="1578.6" cy="2221.8" r="7.60"/><circle cx="1589.6" cy="2235.2" r="7.60"/><circle cx="1600.7" cy="2232.9" r="7.60"/><circle cx="1611.8" cy="2236.9" r="7.60"/><circle cx="1622.8" cy="2238.5" r="7.60"/><circle cx="1633.9" cy="2236.2" r="7.60"/><circle cx="1645.0" cy="2241.9" r="7.60"/><circle cx="1656.0" cy="2241.9" r="7.60"/><circle cx="1667.1" cy="2248.5" r="7.60"/><circle cx="1678.1" cy="2248.5" r="7.60"/><circle cx="1689.2" cy="2250.2" r="7.60"/><circle cx="1700.3" cy="2251.9" r="7.60"/><circle cx="1711.3" cy="2245.2" r="7.60"/><circle cx="1722.4" cy="2241.9" r="7.60"/><circle cx="1733.5" cy="2258.5" r="7.60"/><circle cx="1744.5" cy="2258.5" r="7.60"/><circle cx="1755.6" cy="2258.5" r="7.60"/><circle cx="1766.7" cy="2255.2" r="7.60"/><circle cx="1777.7" cy="2252.9" r="7.60"/><circle cx="1788.8" cy="2246.2" r="7.60"/><circle cx="1799.9" cy="2242.9" r="7.60"/><circle cx="1810.9" cy="2246.9" r="7.60"/><circle cx="1822.0" cy="2230.2" r="7.60"/><circle cx="1833.1" cy="2226.9" r="7.60"/><circle cx="1844.1" cy="2229.5" r="7.60"/><circle cx="1855.2" cy="2246.9" r="7.60"/><circle cx="1866.3" cy="2229.5" r="7.60"/><circle cx="1877.3" cy="2200.2" r="7.60"/><circle cx="1888.4" cy="2210.2" r="7.60"/><circle cx="1899.5" cy="2209.5" r="7.60"/><circle cx="1910.5" cy="2207.8" r="7.60"/><circle cx="1921.6" cy="2206.8" r="7.60"/><circle cx="1932.7" cy="2200.2" r="7.60"/><circle cx="1943.7" cy="2160.1" r="7.60"/><circle cx="1954.8" cy="2177.8" r="7.60"/><circle cx="1965.9" cy="2159.5" r="7.60"/><circle cx="1976.9" cy="2169.5" r="7.60"/><circle cx="1988.0" cy="2218.5" r="7.60"/><circle cx="2010.1" cy="2213.5" r="7.60"/><circle cx="2043.3" cy="2205.2" r="7.60"/><circle cx="2054.4" cy="2210.2" r="7.60"/><circle cx="2065.5" cy="2223.5" r="7.60"/><circle cx="2076.5" cy="2229.5" r="7.60"/><circle cx="2098.7" cy="2243.5" r="7.60"/><circle cx="2120.8" cy="2229.5" r="7.60"/><circle cx="2142.9" cy="2240.9" r="7.60"/><circle cx="2165.1" cy="2248.5" r="7.60"/><circle cx="2187.2" cy="2256.2" r="7.60"/><circle cx="2209.3" cy="2251.9" r="7.60"/><circle cx="2231.4" cy="2259.5" r="7.60"/><circle cx="2253.6" cy="2250.2" r="7.60"/></g></g></g>
<g id="dots-b">
<rect x="1188.3" y="589.8" width="12.0" height="19.5" rx="6.0" ry="6.6" fill="#858585"/><rect x="1188.4" y="652.0" width="12.0" height="19.5" rx="6.0" ry="6.6" fill="#858585"/><rect x="1188.4" y="714.2" width="12.0" height="19.5" rx="6.0" ry="6.6" fill="#858585"/><rect x="1188.5" y="776.4" width="12.0" height="19.5" rx="6.0" ry="6.6" fill="#858585"/><rect x="1188.6" y="838.5" width="12.0" height="19.5" rx="6.0" ry="6.6" fill="#858585"/><rect x="1188.6" y="900.7" width="12.0" height="19.5" rx="6.0" ry="6.6" fill="#858585"/><rect x="1188.7" y="962.9" width="12.0" height="19.5" rx="6.0" ry="6.6" fill="#858585"/><rect x="1188.8" y="1025.1" width="12.0" height="19.5" rx="6.0" ry="6.6" fill="#858585"/><rect x="1188.8" y="1087.3" width="12.0" height="19.5" rx="6.0" ry="6.6" fill="#858585"/><rect x="1188.9" y="1149.5" width="12.0" height="19.5" rx="6.0" ry="6.6" fill="#858585"/><rect x="1188.9" y="1211.7" width="12.0" height="19.5" rx="6.0" ry="6.6" fill="#858585"/><rect x="1189.0" y="1273.8" width="12.0" height="19.5" rx="6.0" ry="6.6" fill="#858585"/><rect x="1189.1" y="1336.0" width="12.0" height="19.5" rx="6.0" ry="6.6" fill="#858585"/><rect x="1189.1" y="1398.2" width="12.0" height="19.5" rx="6.0" ry="6.6" fill="#858585"/><rect x="1189.2" y="1460.4" width="12.0" height="19.5" rx="6.0" ry="6.6" fill="#858585"/><rect x="1189.2" y="1522.6" width="12.0" height="19.5" rx="6.0" ry="6.6" fill="#858585"/><rect x="1189.3" y="1584.8" width="12.0" height="19.5" rx="6.0" ry="6.6" fill="#858585"/><rect x="1189.4" y="1647.0" width="12.0" height="19.5" rx="6.0" ry="6.6" fill="#858585"/><rect x="1189.4" y="1709.2" width="12.0" height="19.5" rx="6.0" ry="6.6" fill="#858585"/><rect x="1189.5" y="1771.3" width="12.0" height="19.5" rx="6.0" ry="6.6" fill="#858585"/><rect x="1189.6" y="1833.5" width="12.0" height="19.5" rx="6.0" ry="6.6" fill="#858585"/><rect x="1189.6" y="1895.7" width="12.0" height="19.5" rx="6.0" ry="6.6" fill="#858585"/><rect x="1189.7" y="1957.9" width="12.0" height="19.5" rx="6.0" ry="6.6" fill="#858585"/><rect x="1189.7" y="2020.1" width="12.0" height="19.5" rx="6.0" ry="6.6" fill="#858585"/><rect x="1189.8" y="2082.3" width="12.0" height="19.5" rx="6.0" ry="6.6" fill="#858585"/><rect x="1189.9" y="2144.5" width="12.0" height="19.5" rx="6.0" ry="6.6" fill="#858585"/><rect x="1189.9" y="2206.7" width="12.0" height="19.5" rx="6.0" ry="6.6" fill="#858585"/><rect x="1190.0" y="2268.8" width="12.0" height="19.5" rx="6.0" ry="6.6" fill="#858585"/>
<rect x="1666.8" y="594.0" width="12.0" height="19.5" rx="6.0" ry="6.6" fill="#858585"/><rect x="1666.9" y="656.1" width="12.0" height="19.5" rx="6.0" ry="6.6" fill="#858585"/><rect x="1666.9" y="718.3" width="12.0" height="19.5" rx="6.0" ry="6.6" fill="#858585"/><rect x="1666.9" y="780.4" width="12.0" height="19.5" rx="6.0" ry="6.6" fill="#858585"/><rect x="1666.9" y="842.5" width="12.0" height="19.5" rx="6.0" ry="6.6" fill="#858585"/><rect x="1667.0" y="904.7" width="12.0" height="19.5" rx="6.0" ry="6.6" fill="#858585"/><rect x="1667.0" y="966.8" width="12.0" height="19.5" rx="6.0" ry="6.6" fill="#858585"/><rect x="1667.0" y="1028.9" width="12.0" height="19.5" rx="6.0" ry="6.6" fill="#858585"/><rect x="1667.0" y="1091.1" width="12.0" height="19.5" rx="6.0" ry="6.6" fill="#858585"/><rect x="1667.1" y="1153.2" width="12.0" height="19.5" rx="6.0" ry="6.6" fill="#858585"/><rect x="1667.1" y="1215.3" width="12.0" height="19.5" rx="6.0" ry="6.6" fill="#858585"/><rect x="1667.1" y="1277.5" width="12.0" height="19.5" rx="6.0" ry="6.6" fill="#858585"/><rect x="1667.1" y="1339.6" width="12.0" height="19.5" rx="6.0" ry="6.6" fill="#858585"/><rect x="1667.2" y="1401.8" width="12.0" height="19.5" rx="6.0" ry="6.6" fill="#858585"/><rect x="1667.2" y="1463.9" width="12.0" height="19.5" rx="6.0" ry="6.6" fill="#858585"/><rect x="1667.2" y="1526.0" width="12.0" height="19.5" rx="6.0" ry="6.6" fill="#858585"/><rect x="1667.2" y="1588.2" width="12.0" height="19.5" rx="6.0" ry="6.6" fill="#858585"/><rect x="1667.3" y="1650.3" width="12.0" height="19.5" rx="6.0" ry="6.6" fill="#858585"/><rect x="1667.3" y="1712.4" width="12.0" height="19.5" rx="6.0" ry="6.6" fill="#858585"/><rect x="1667.3" y="1774.6" width="12.0" height="19.5" rx="6.0" ry="6.6" fill="#858585"/><rect x="1667.3" y="1836.7" width="12.0" height="19.5" rx="6.0" ry="6.6" fill="#858585"/><rect x="1667.4" y="1898.8" width="12.0" height="19.5" rx="6.0" ry="6.6" fill="#858585"/><rect x="1667.4" y="1961.0" width="12.0" height="19.5" rx="6.0" ry="6.6" fill="#858585"/><rect x="1667.4" y="2023.1" width="12.0" height="19.5" rx="6.0" ry="6.6" fill="#858585"/><rect x="1667.4" y="2085.2" width="12.0" height="19.5" rx="6.0" ry="6.6" fill="#858585"/><rect x="1667.5" y="2147.4" width="12.0" height="19.5" rx="6.0" ry="6.6" fill="#858585"/><rect x="1667.5" y="2209.5" width="12.0" height="19.5" rx="6.0" ry="6.6" fill="#858585"/><rect x="1667.5" y="2271.7" width="12.0" height="19.5" rx="6.0" ry="6.6" fill="#858585"/>
<rect x="1868.5" y="591.9" width="12.0" height="19.5" rx="6.0" ry="6.6" fill="#858585"/><rect x="1868.6" y="654.1" width="12.0" height="19.5" rx="6.0" ry="6.6" fill="#858585"/><rect x="1868.7" y="716.3" width="12.0" height="19.5" rx="6.0" ry="6.6" fill="#858585"/><rect x="1868.8" y="778.5" width="12.0" height="19.5" rx="6.0" ry="6.6" fill="#858585"/><rect x="1868.8" y="840.6" width="12.0" height="19.5" rx="6.0" ry="6.6" fill="#858585"/><rect x="1868.9" y="902.8" width="12.0" height="19.5" rx="6.0" ry="6.6" fill="#858585"/><rect x="1869.0" y="965.0" width="12.0" height="19.5" rx="6.0" ry="6.6" fill="#858585"/><rect x="1869.1" y="1027.2" width="12.0" height="19.5" rx="6.0" ry="6.6" fill="#858585"/><rect x="1869.2" y="1089.4" width="12.0" height="19.5" rx="6.0" ry="6.6" fill="#858585"/><rect x="1869.3" y="1151.6" width="12.0" height="19.5" rx="6.0" ry="6.6" fill="#858585"/><rect x="1869.4" y="1213.8" width="12.0" height="19.5" rx="6.0" ry="6.6" fill="#858585"/><rect x="1869.5" y="1276.0" width="12.0" height="19.5" rx="6.0" ry="6.6" fill="#858585"/><rect x="1869.6" y="1338.1" width="12.0" height="19.5" rx="6.0" ry="6.6" fill="#858585"/><rect x="1869.7" y="1400.3" width="12.0" height="19.5" rx="6.0" ry="6.6" fill="#858585"/><rect x="1869.8" y="1462.5" width="12.0" height="19.5" rx="6.0" ry="6.6" fill="#858585"/><rect x="1869.9" y="1524.7" width="12.0" height="19.5" rx="6.0" ry="6.6" fill="#858585"/><rect x="1870.0" y="1586.9" width="12.0" height="19.5" rx="6.0" ry="6.6" fill="#858585"/><rect x="1870.1" y="1649.1" width="12.0" height="19.5" rx="6.0" ry="6.6" fill="#858585"/><rect x="1870.2" y="1711.3" width="12.0" height="19.5" rx="6.0" ry="6.6" fill="#858585"/><rect x="1870.3" y="1773.5" width="12.0" height="19.5" rx="6.0" ry="6.6" fill="#858585"/><rect x="1870.3" y="1835.6" width="12.0" height="19.5" rx="6.0" ry="6.6" fill="#858585"/><rect x="1870.4" y="1897.8" width="12.0" height="19.5" rx="6.0" ry="6.6" fill="#858585"/><rect x="1870.5" y="1960.0" width="12.0" height="19.5" rx="6.0" ry="6.6" fill="#858585"/><rect x="1870.6" y="2022.2" width="12.0" height="19.5" rx="6.0" ry="6.6" fill="#858585"/><rect x="1870.7" y="2084.4" width="12.0" height="19.5" rx="6.0" ry="6.6" fill="#858585"/><rect x="1870.8" y="2146.6" width="12.0" height="19.5" rx="6.0" ry="6.6" fill="#858585"/><rect x="1870.9" y="2208.8" width="12.0" height="19.5" rx="6.0" ry="6.6" fill="#858585"/><rect x="1871.0" y="2270.9" width="12.0" height="19.5" rx="6.0" ry="6.6" fill="#858585"/>
<rect x="1941.8" y="590.9" width="12.0" height="19.5" rx="6.0" ry="6.6" fill="#858585"/><rect x="1941.9" y="653.1" width="12.0" height="19.5" rx="6.0" ry="6.6" fill="#858585"/><rect x="1942.0" y="715.3" width="12.0" height="19.5" rx="6.0" ry="6.6" fill="#858585"/><rect x="1942.1" y="777.5" width="12.0" height="19.5" rx="6.0" ry="6.6" fill="#858585"/><rect x="1942.1" y="839.6" width="12.0" height="19.5" rx="6.0" ry="6.6" fill="#858585"/><rect x="1942.2" y="901.8" width="12.0" height="19.5" rx="6.0" ry="6.6" fill="#858585"/><rect x="1942.3" y="964.0" width="12.0" height="19.5" rx="6.0" ry="6.6" fill="#858585"/><rect x="1942.4" y="1026.2" width="12.0" height="19.5" rx="6.0" ry="6.6" fill="#858585"/><rect x="1942.5" y="1088.4" width="12.0" height="19.5" rx="6.0" ry="6.6" fill="#858585"/><rect x="1942.6" y="1150.6" width="12.0" height="19.5" rx="6.0" ry="6.6" fill="#858585"/><rect x="1942.7" y="1212.8" width="12.0" height="19.5" rx="6.0" ry="6.6" fill="#858585"/><rect x="1942.8" y="1275.0" width="12.0" height="19.5" rx="6.0" ry="6.6" fill="#858585"/><rect x="1942.9" y="1337.1" width="12.0" height="19.5" rx="6.0" ry="6.6" fill="#858585"/><rect x="1943.0" y="1399.3" width="12.0" height="19.5" rx="6.0" ry="6.6" fill="#858585"/><rect x="1943.1" y="1461.5" width="12.0" height="19.5" rx="6.0" ry="6.6" fill="#858585"/><rect x="1943.2" y="1523.7" width="12.0" height="19.5" rx="6.0" ry="6.6" fill="#858585"/><rect x="1943.3" y="1585.9" width="12.0" height="19.5" rx="6.0" ry="6.6" fill="#858585"/><rect x="1943.4" y="1648.1" width="12.0" height="19.5" rx="6.0" ry="6.6" fill="#858585"/><rect x="1943.5" y="1710.3" width="12.0" height="19.5" rx="6.0" ry="6.6" fill="#858585"/><rect x="1943.6" y="1772.5" width="12.0" height="19.5" rx="6.0" ry="6.6" fill="#858585"/><rect x="1943.6" y="1834.6" width="12.0" height="19.5" rx="6.0" ry="6.6" fill="#858585"/><rect x="1943.7" y="1896.8" width="12.0" height="19.5" rx="6.0" ry="6.6" fill="#858585"/><rect x="1943.8" y="1959.0" width="12.0" height="19.5" rx="6.0" ry="6.6" fill="#858585"/><rect x="1943.9" y="2021.2" width="12.0" height="19.5" rx="6.0" ry="6.6" fill="#858585"/><rect x="1944.0" y="2083.4" width="12.0" height="19.5" rx="6.0" ry="6.6" fill="#858585"/><rect x="1944.1" y="2145.6" width="12.0" height="19.5" rx="6.0" ry="6.6" fill="#858585"/><rect x="1944.2" y="2207.8" width="12.0" height="19.5" rx="6.0" ry="6.6" fill="#858585"/><rect x="1944.3" y="2269.9" width="12.0" height="19.5" rx="6.0" ry="6.6" fill="#858585"/>
</g>
<line x1="270.3" y1="219.3" x2="366.7" y2="219.3" stroke="#000000" stroke-width="5.6"/>
<line x1="270.3" y1="639.7" x2="384.7" y2="639.7" stroke="#0000ff" stroke-width="5.6"/>
<line x1="270.3" y1="742.0" x2="384.7" y2="742.0" stroke="#ff0000" stroke-width="5.6"/>
<circle cx="327.5" cy="742.0" r="15.2" fill="#fff" stroke="#ff0000" stroke-width="4.6"/>
<line x1="266.7" y1="1081.7" x2="380.0" y2="1081.7" stroke="#0000ff" stroke-width="5.6"/>
<line x1="266.7" y1="1184.4" x2="380.0" y2="1184.4" stroke="#ff0000" stroke-width="5.6"/>
<circle cx="323.4" cy="1184.4" r="15.2" fill="#fff" stroke="#ff0000" stroke-width="4.6"/>
<line x1="260.0" y1="1514.0" x2="373.4" y2="1514.0" stroke="#0000ff" stroke-width="5.6"/>
<line x1="260.0" y1="1616.7" x2="373.4" y2="1616.7" stroke="#ff0000" stroke-width="5.6"/>
<circle cx="316.7" cy="1616.7" r="15.2" fill="#fff" stroke="#ff0000" stroke-width="4.6"/>
<line x1="261.7" y1="1946.7" x2="373.4" y2="1946.7" stroke="#0000ff" stroke-width="5.6"/>
<line x1="261.7" y1="2049.4" x2="373.4" y2="2049.4" stroke="#ff0000" stroke-width="5.6"/>
<circle cx="317.5" cy="2049.4" r="15.2" fill="#fff" stroke="#ff0000" stroke-width="4.6"/>
<text transform="translate(197.43,2360.80) scale(0.9518,1.0000)" font-size="67.5" font-family="'Liberation Serif', 'DejaVu Serif', serif" fill="#1c1c1c" xml:space="preserve">2700</text>
<text transform="translate(418.72,2360.80) scale(0.9518,1.0000)" font-size="67.5" font-family="'Liberation Serif', 'DejaVu Serif', serif" fill="#1c1c1c" xml:space="preserve">2800</text>
<text transform="translate(640.01,2360.80) scale(0.9518,1.0000)" font-size="67.5" font-family="'Liberation Serif', 'DejaVu Serif', serif" fill="#1c1c1c" xml:space="preserve">2900</text>
<text transform="translate(861.30,2360.80) scale(0.9518,1.0000)" font-size="67.5" font-family="'Liberation Serif', 'DejaVu Serif', serif" fill="#1c1c1c" xml:space="preserve">3000</text>
<text transform="translate(1082.59,2360.80) scale(0.9518,1.0000)" font-size="67.5" font-family="'Liberation Serif', 'DejaVu Serif', serif" fill="#1c1c1c" xml:space="preserve">3100</text>
<text transform="translate(1303.87,2360.80) scale(0.9518,1.0000)" font-size="67.5" font-family="'Liberation Serif', 'DejaVu Serif', serif" fill="#1c1c1c" xml:space="preserve">3200</text>
<text transform="translate(1525.16,2360.80) scale(0.9518,1.0000)" font-size="67.5" font-family="'Liberation Serif', 'DejaVu Serif', serif" fill="#1c1c1c" xml:space="preserve">3300</text>
<text transform="translate(1746.45,2360.80) scale(0.9518,1.0000)" font-size="67.5" font-family="'Liberation Serif', 'DejaVu Serif', serif" fill="#1c1c1c" xml:space="preserve">3400</text>
<text transform="translate(1967.74,2360.80) scale(0.9518,1.0000)" font-size="67.5" font-family="'Liberation Serif', 'DejaVu Serif', serif" fill="#1c1c1c" xml:space="preserve">3500</text>
<text transform="translate(2189.03,2360.80) scale(0.9518,1.0000)" font-size="67.5" font-family="'Liberation Serif', 'DejaVu Serif', serif" fill="#1c1c1c" xml:space="preserve">3600</text>
<text transform="translate(882.80,2486.00) scale(0.9760,1.0000)" font-size="86.0" font-family="'Liberation Serif', 'DejaVu Serif', serif" fill="#1c1c1c" xml:space="preserve">wave numbers</text>
<text transform="translate(1396.34,2474.40) scale(0.9599,1.0000)" font-size="98.0" font-family="'Liberation Serif', 'DejaVu Serif', serif" fill="#2e2e2e" xml:space="preserve">(</text>
<text transform="translate(1429.64,2486.00) scale(0.9920,1.0000)" font-size="86.0" font-family="'Liberation Serif', 'DejaVu Serif', serif" fill="#1c1c1c" xml:space="preserve">cm</text>
<text transform="translate(1530.52,2441.80) scale(1.0199,1.0000)" font-size="45.0" font-family="'Liberation Serif', 'DejaVu Serif', serif" fill="#1c1c1c" xml:space="preserve">-1</text>
<text transform="translate(1575.25,2474.40) scale(0.9694,1.0000)" font-size="98.0" font-family="'Liberation Serif', 'DejaVu Serif', serif" fill="#2e2e2e" xml:space="preserve">)</text>
<text transform="translate(140.30,1542.37) rotate(-90) scale(0.8010,1)" font-size="86.0" font-family="'Liberation Serif', 'DejaVu Serif', serif" fill="#1c1c1c" xml:space="preserve">-</text>
<text transform="translate(140.30,1514.49) rotate(-90) scale(0.8661,1)" font-size="86.0" font-family="'Liberation Serif', 'DejaVu Serif', serif" fill="#1c1c1c" xml:space="preserve">ln</text>
<text transform="translate(129.60,1432.68) rotate(-90) scale(0.9080,1)" font-size="93.0" font-family="'Liberation Serif', 'DejaVu Serif', serif" fill="#2e2e2e" xml:space="preserve">(</text>
<text transform="translate(140.30,1402.64) rotate(-90) scale(0.9087,1)" font-size="86.0" font-family="'Liberation Serif', 'DejaVu Serif', serif" fill="#1c1c1c" xml:space="preserve">I</text>
<text transform="translate(172.20,1375.00) rotate(-90) scale(0.9913,1)" font-size="50.0" font-family="'Liberation Serif', 'DejaVu Serif', serif" fill="#1c1c1c" xml:space="preserve">p</text>
<text transform="translate(140.30,1332.70) rotate(-90) scale(0.9801,1)" font-size="86.0" font-family="'Liberation Serif', 'DejaVu Serif', serif" fill="#1c1c1c" xml:space="preserve">/</text>
<text transform="translate(129.60,1266.50) rotate(-90) scale(0.8881,1)" font-size="93.0" font-family="'Liberation Serif', 'DejaVu Serif', serif" fill="#2e2e2e" xml:space="preserve">(</text>
<text transform="translate(140.30,1237.44) rotate(-90) scale(0.9475,1)" font-size="86.0" font-family="'Liberation Serif', 'DejaVu Serif', serif" fill="#1c1c1c" xml:space="preserve">I</text>
<text transform="translate(172.20,1208.06) rotate(-90) scale(0.9217,1)" font-size="50.0" font-family="'Liberation Serif', 'DejaVu Serif', serif" fill="#1c1c1c" xml:space="preserve">p</text>
<text transform="translate(140.30,1169.27) rotate(-90) scale(1.0368,1)" font-size="86.0" font-family="'Liberation Serif', 'DejaVu Serif', serif" fill="#1c1c1c" xml:space="preserve">+</text>
<text transform="translate(140.30,1102.27) rotate(-90) scale(0.9173,1)" font-size="86.0" font-family="'Liberation Serif', 'DejaVu Serif', serif" fill="#1c1c1c" xml:space="preserve">I</text>
<text transform="translate(172.20,1074.03) rotate(-90) scale(1.1548,1)" font-size="50.0" font-family="'Liberation Serif', 'DejaVu Serif', serif" fill="#1c1c1c" xml:space="preserve">f</text>
<text transform="translate(139.50,1039.64) rotate(-90) scale(0.9522,1)" font-size="82.0" font-family="'Liberation Serif', 'DejaVu Serif', serif" fill="#2e2e2e" xml:space="preserve">)</text>
<text transform="translate(139.50,1012.71) rotate(-90) scale(0.9381,1)" font-size="82.0" font-family="'Liberation Serif', 'DejaVu Serif', serif" fill="#2e2e2e" xml:space="preserve">)</text>
<text transform="translate(2084.91,374.30) scale(0.9662,1.0000)" font-size="129.0" font-family="'Liberation Serif', 'DejaVu Serif', serif" fill="#000" stroke="#000" stroke-width="0.90" xml:space="preserve">a</text>
<text transform="translate(2086.95,819.30) scale(0.9797,1.0000)" font-size="129.0" font-family="'Liberation Serif', 'DejaVu Serif', serif" fill="#000" stroke="#000" stroke-width="0.90" xml:space="preserve">b</text>
<text transform="translate(2086.55,1287.60) scale(0.9819,1.0000)" font-size="129.0" font-family="'Liberation Serif', 'DejaVu Serif', serif" fill="#000" stroke="#000" stroke-width="0.90" xml:space="preserve">c</text>
<text transform="translate(2086.48,1677.60) scale(1.0010,1.0000)" font-size="129.0" font-family="'Liberation Serif', 'DejaVu Serif', serif" fill="#000" stroke="#000" stroke-width="0.90" xml:space="preserve">d</text>
<text transform="translate(2104.75,2120.80) scale(1.0078,1.0000)" font-size="129.0" font-family="'Liberation Serif', 'DejaVu Serif', serif" fill="#000" stroke="#000" stroke-width="0.90" xml:space="preserve">e</text>
<text transform="translate(1219.00,245.76) rotate(-90) scale(1.0103,1)" font-size="51.0" font-family="'Liberation Serif', 'DejaVu Serif', serif" fill="#1c1c1c" xml:space="preserve">3115 cm</text>
<text transform="translate(1191.80,67.85) rotate(-90) scale(0.8832,1)" font-size="32.0" font-family="'Liberation Serif', 'DejaVu Serif', serif" fill="#1c1c1c" xml:space="preserve">-1</text>
<text transform="translate(1680.00,266.81) rotate(-90) scale(0.9856,1)" font-size="51.0" font-family="'Liberation Serif', 'DejaVu Serif', serif" fill="#1c1c1c" xml:space="preserve">3335 cm</text>
<text transform="translate(1652.00,89.08) rotate(-90) scale(0.8159,1)" font-size="32.0" font-family="'Liberation Serif', 'DejaVu Serif', serif" fill="#1c1c1c" xml:space="preserve">-1</text>
<text transform="translate(1894.00,262.64) rotate(-90) scale(0.9976,1)" font-size="51.0" font-family="'Liberation Serif', 'DejaVu Serif', serif" fill="#1c1c1c" xml:space="preserve">3425 cm</text>
<text transform="translate(1866.00,82.61) rotate(-90) scale(0.8454,1)" font-size="32.0" font-family="'Liberation Serif', 'DejaVu Serif', serif" fill="#1c1c1c" xml:space="preserve">-1</text>
<text transform="translate(1974.40,261.52) rotate(-90) scale(0.9913,1)" font-size="51.0" font-family="'Liberation Serif', 'DejaVu Serif', serif" fill="#1c1c1c" xml:space="preserve">3465 cm</text>
<text transform="translate(1946.60,82.61) rotate(-90) scale(0.8454,1)" font-size="32.0" font-family="'Liberation Serif', 'DejaVu Serif', serif" fill="#1c1c1c" xml:space="preserve">-1</text>
<text transform="translate(378.75,229.60) scale(0.8939,1.0000)" font-size="53.5" font-family="'Liberation Serif', 'DejaVu Serif', serif" fill="#1c1c1c" xml:space="preserve">[</text>
<text transform="translate(399.17,233.60) scale(0.9255,1.0000)" font-size="50.0" font-family="'Liberation Serif', 'DejaVu Serif', serif" fill="#1c1c1c" xml:space="preserve">L-Ser</text>
<text transform="translate(505.71,248.80) scale(0.7846,1.0000)" font-size="42.0" font-family="'Liberation Serif', 'DejaVu Serif', serif" fill="#1c1c1c" xml:space="preserve">8</text>
<text transform="translate(525.73,229.60) scale(0.9752,1.0000)" font-size="53.5" font-family="'Liberation Serif', 'DejaVu Serif', serif" fill="#1c1c1c" xml:space="preserve">]</text>
<text transform="translate(543.74,233.60) scale(0.9618,1.0000)" font-size="50.0" font-family="'Liberation Serif', 'DejaVu Serif', serif" fill="#1c1c1c" xml:space="preserve">H</text>
<text transform="translate(577.67,208.40) scale(0.9549,1.0000)" font-size="48.0" font-family="'Liberation Serif', 'DejaVu Serif', serif" fill="#1c1c1c" xml:space="preserve">+</text>
<text transform="translate(396.45,651.20) scale(0.8939,1.0000)" font-size="53.5" font-family="'Liberation Serif', 'DejaVu Serif', serif" fill="#1c1c1c" xml:space="preserve">[</text>
<text transform="translate(416.87,655.20) scale(0.9255,1.0000)" font-size="50.0" font-family="'Liberation Serif', 'DejaVu Serif', serif" fill="#1c1c1c" xml:space="preserve">L-Ser</text>
<text transform="translate(522.33,672.10) scale(0.8220,1.0000)" font-size="42.0" font-family="'Liberation Serif', 'DejaVu Serif', serif" fill="#1c1c1c" xml:space="preserve">7</text>
<text transform="translate(539.62,655.20) scale(0.9406,1.0000)" font-size="50.0" font-family="'Liberation Serif', 'DejaVu Serif', serif" fill="#1c1c1c" xml:space="preserve">+L-Thr</text>
<text transform="translate(682.40,672.10) scale(0.5357,1.0000)" font-size="42.0" font-family="'Liberation Serif', 'DejaVu Serif', serif" fill="#1c1c1c" xml:space="preserve">1</text>
<text transform="translate(704.77,651.20) scale(0.8939,1.0000)" font-size="53.5" font-family="'Liberation Serif', 'DejaVu Serif', serif" fill="#1c1c1c" xml:space="preserve">]</text>
<text transform="translate(724.25,655.20) scale(0.9500,1.0000)" font-size="50.0" font-family="'Liberation Serif', 'DejaVu Serif', serif" fill="#1c1c1c" xml:space="preserve">H</text>
<text transform="translate(757.83,630.00) scale(0.9722,1.0000)" font-size="48.0" font-family="'Liberation Serif', 'DejaVu Serif', serif" fill="#1c1c1c" xml:space="preserve">+</text>
<text transform="translate(396.45,754.60) scale(0.8939,1.0000)" font-size="53.5" font-family="'Liberation Serif', 'DejaVu Serif', serif" fill="#1c1c1c" xml:space="preserve">[</text>
<text transform="translate(416.87,758.60) scale(0.9255,1.0000)" font-size="50.0" font-family="'Liberation Serif', 'DejaVu Serif', serif" fill="#1c1c1c" xml:space="preserve">L-Ser</text>
<text transform="translate(522.33,775.50) scale(0.8220,1.0000)" font-size="42.0" font-family="'Liberation Serif', 'DejaVu Serif', serif" fill="#1c1c1c" xml:space="preserve">7</text>
<text transform="translate(539.63,758.60) scale(0.9358,1.0000)" font-size="50.0" font-family="'Liberation Serif', 'DejaVu Serif', serif" fill="#1c1c1c" xml:space="preserve">+D-Thr</text>
<text transform="translate(686.90,775.50) scale(0.5357,1.0000)" font-size="42.0" font-family="'Liberation Serif', 'DejaVu Serif', serif" fill="#1c1c1c" xml:space="preserve">1</text>
<text transform="translate(709.27,754.60) scale(0.8939,1.0000)" font-size="53.5" font-family="'Liberation Serif', 'DejaVu Serif', serif" fill="#1c1c1c" xml:space="preserve">]</text>
<text transform="translate(728.75,758.60) scale(0.9500,1.0000)" font-size="50.0" font-family="'Liberation Serif', 'DejaVu Serif', serif" fill="#1c1c1c" xml:space="preserve">H</text>
<text transform="translate(762.33,733.40) scale(0.9722,1.0000)" font-size="48.0" font-family="'Liberation Serif', 'DejaVu Serif', serif" fill="#1c1c1c" xml:space="preserve">+</text>
<text transform="translate(392.65,1093.50) scale(0.8939,1.0000)" font-size="53.5" font-family="'Liberation Serif', 'DejaVu Serif', serif" fill="#1c1c1c" xml:space="preserve">[</text>
<text transform="translate(413.07,1097.50) scale(0.9255,1.0000)" font-size="50.0" font-family="'Liberation Serif', 'DejaVu Serif', serif" fill="#1c1c1c" xml:space="preserve">L-Ser</text>
<text transform="translate(518.53,1114.40) scale(0.8220,1.0000)" font-size="42.0" font-family="'Liberation Serif', 'DejaVu Serif', serif" fill="#1c1c1c" xml:space="preserve">7</text>
<text transform="translate(535.82,1097.50) scale(0.9406,1.0000)" font-size="50.0" font-family="'Liberation Serif', 'DejaVu Serif', serif" fill="#1c1c1c" xml:space="preserve">+L-Thr</text>
<text transform="translate(675.22,1114.40) scale(0.8827,1.0000)" font-size="42.0" font-family="'Liberation Serif', 'DejaVu Serif', serif" fill="#1c1c1c" xml:space="preserve">2</text>
<text transform="translate(700.97,1093.50) scale(0.8939,1.0000)" font-size="53.5" font-family="'Liberation Serif', 'DejaVu Serif', serif" fill="#1c1c1c" xml:space="preserve">]</text>
<text transform="translate(720.45,1097.50) scale(0.9500,1.0000)" font-size="50.0" font-family="'Liberation Serif', 'DejaVu Serif', serif" fill="#1c1c1c" xml:space="preserve">H</text>
<text transform="translate(754.03,1072.30) scale(0.9722,1.0000)" font-size="48.0" font-family="'Liberation Serif', 'DejaVu Serif', serif" fill="#1c1c1c" xml:space="preserve">+</text>
<text transform="translate(392.65,1196.90) scale(0.8939,1.0000)" font-size="53.5" font-family="'Liberation Serif', 'DejaVu Serif', serif" fill="#1c1c1c" xml:space="preserve">[</text>
<text transform="translate(413.07,1200.90) scale(0.9255,1.0000)" font-size="50.0" font-family="'Liberation Serif', 'DejaVu Serif', serif" fill="#1c1c1c" xml:space="preserve">L-Ser</text>
<text transform="translate(518.53,1217.80) scale(0.8220,1.0000)" font-size="42.0" font-family="'Liberation Serif', 'DejaVu Serif', serif" fill="#1c1c1c" xml:space="preserve">7</text>
<text transform="translate(535.83,1200.90) scale(0.9358,1.0000)" font-size="50.0" font-family="'Liberation Serif', 'DejaVu Serif', serif" fill="#1c1c1c" xml:space="preserve">+D-Thr</text>
<text transform="translate(679.72,1217.80) scale(0.8827,1.0000)" font-size="42.0" font-family="'Liberation Serif', 'DejaVu Serif', serif" fill="#1c1c1c" xml:space="preserve">2</text>
<text transform="translate(705.47,1196.90) scale(0.8939,1.0000)" font-size="53.5" font-family="'Liberation Serif', 'DejaVu Serif', serif" fill="#1c1c1c" xml:space="preserve">]</text>
<text transform="translate(724.95,1200.90) scale(0.9500,1.0000)" font-size="50.0" font-family="'Liberation Serif', 'DejaVu Serif', serif" fill="#1c1c1c" xml:space="preserve">H</text>
<text transform="translate(758.53,1175.70) scale(0.9722,1.0000)" font-size="48.0" font-family="'Liberation Serif', 'DejaVu Serif', serif" fill="#1c1c1c" xml:space="preserve">+</text>
<text transform="translate(385.75,1526.20) scale(0.8939,1.0000)" font-size="53.5" font-family="'Liberation Serif', 'DejaVu Serif', serif" fill="#1c1c1c" xml:space="preserve">[</text>
<text transform="translate(406.17,1530.20) scale(0.9255,1.0000)" font-size="50.0" font-family="'Liberation Serif', 'DejaVu Serif', serif" fill="#1c1c1c" xml:space="preserve">L-Ser</text>
<text transform="translate(511.63,1547.10) scale(0.8220,1.0000)" font-size="42.0" font-family="'Liberation Serif', 'DejaVu Serif', serif" fill="#1c1c1c" xml:space="preserve">7</text>
<text transform="translate(528.94,1530.20) scale(0.9296,1.0000)" font-size="50.0" font-family="'Liberation Serif', 'DejaVu Serif', serif" fill="#1c1c1c" xml:space="preserve">+L-Pro</text>
<text transform="translate(666.30,1547.10) scale(0.5357,1.0000)" font-size="42.0" font-family="'Liberation Serif', 'DejaVu Serif', serif" fill="#1c1c1c" xml:space="preserve">1</text>
<text transform="translate(688.67,1526.20) scale(0.8939,1.0000)" font-size="53.5" font-family="'Liberation Serif', 'DejaVu Serif', serif" fill="#1c1c1c" xml:space="preserve">]</text>
<text transform="translate(708.15,1530.20) scale(0.9500,1.0000)" font-size="50.0" font-family="'Liberation Serif', 'DejaVu Serif', serif" fill="#1c1c1c" xml:space="preserve">H</text>
<text transform="translate(741.73,1505.00) scale(0.9722,1.0000)" font-size="48.0" font-family="'Liberation Serif', 'DejaVu Serif', serif" fill="#1c1c1c" xml:space="preserve">+</text>
<text transform="translate(385.75,1629.10) scale(0.8939,1.0000)" font-size="53.5" font-family="'Liberation Serif', 'DejaVu Serif', serif" fill="#1c1c1c" xml:space="preserve">[</text>
<text transform="translate(406.17,1633.10) scale(0.9255,1.0000)" font-size="50.0" font-family="'Liberation Serif', 'DejaVu Serif', serif" fill="#1c1c1c" xml:space="preserve">L-Ser</text>
<text transform="translate(511.63,1650.00) scale(0.8220,1.0000)" font-size="42.0" font-family="'Liberation Serif', 'DejaVu Serif', serif" fill="#1c1c1c" xml:space="preserve">7</text>
<text transform="translate(528.95,1633.10) scale(0.9250,1.0000)" font-size="50.0" font-family="'Liberation Serif', 'DejaVu Serif', serif" fill="#1c1c1c" xml:space="preserve">+D-Pro</text>
<text transform="translate(670.80,1650.00) scale(0.5357,1.0000)" font-size="42.0" font-family="'Liberation Serif', 'DejaVu Serif', serif" fill="#1c1c1c" xml:space="preserve">1</text>
<text transform="translate(693.17,1629.10) scale(0.8939,1.0000)" font-size="53.5" font-family="'Liberation Serif', 'DejaVu Serif', serif" fill="#1c1c1c" xml:space="preserve">]</text>
<text transform="translate(712.65,1633.10) scale(0.9500,1.0000)" font-size="50.0" font-family="'Liberation Serif', 'DejaVu Serif', serif" fill="#1c1c1c" xml:space="preserve">H</text>
<text transform="translate(746.23,1607.90) scale(0.9722,1.0000)" font-size="48.0" font-family="'Liberation Serif', 'DejaVu Serif', serif" fill="#1c1c1c" xml:space="preserve">+</text>
<text transform="translate(388.05,1958.50) scale(0.8939,1.0000)" font-size="53.5" font-family="'Liberation Serif', 'DejaVu Serif', serif" fill="#1c1c1c" xml:space="preserve">[</text>
<text transform="translate(408.47,1962.50) scale(0.9255,1.0000)" font-size="50.0" font-family="'Liberation Serif', 'DejaVu Serif', serif" fill="#1c1c1c" xml:space="preserve">L-Ser</text>
<text transform="translate(514.68,1979.40) scale(0.7846,1.0000)" font-size="42.0" font-family="'Liberation Serif', 'DejaVu Serif', serif" fill="#1c1c1c" xml:space="preserve">6</text>
<text transform="translate(531.24,1962.50) scale(0.9296,1.0000)" font-size="50.0" font-family="'Liberation Serif', 'DejaVu Serif', serif" fill="#1c1c1c" xml:space="preserve">+L-Pro</text>
<text transform="translate(665.22,1979.40) scale(0.8827,1.0000)" font-size="42.0" font-family="'Liberation Serif', 'DejaVu Serif', serif" fill="#1c1c1c" xml:space="preserve">2</text>
<text transform="translate(690.97,1958.50) scale(0.8939,1.0000)" font-size="53.5" font-family="'Liberation Serif', 'DejaVu Serif', serif" fill="#1c1c1c" xml:space="preserve">]</text>
<text transform="translate(710.45,1962.50) scale(0.9500,1.0000)" font-size="50.0" font-family="'Liberation Serif', 'DejaVu Serif', serif" fill="#1c1c1c" xml:space="preserve">H</text>
<text transform="translate(744.03,1937.30) scale(0.9722,1.0000)" font-size="48.0" font-family="'Liberation Serif', 'DejaVu Serif', serif" fill="#1c1c1c" xml:space="preserve">+</text>
<text transform="translate(388.05,2061.90) scale(0.8939,1.0000)" font-size="53.5" font-family="'Liberation Serif', 'DejaVu Serif', serif" fill="#1c1c1c" xml:space="preserve">[</text>
<text transform="translate(408.47,2065.90) scale(0.9255,1.0000)" font-size="50.0" font-family="'Liberation Serif', 'DejaVu Serif', serif" fill="#1c1c1c" xml:space="preserve">L-Ser</text>
<text transform="translate(514.68,2082.80) scale(0.7846,1.0000)" font-size="42.0" font-family="'Liberation Serif', 'DejaVu Serif', serif" fill="#1c1c1c" xml:space="preserve">6</text>
<text transform="translate(531.25,2065.90) scale(0.9250,1.0000)" font-size="50.0" font-family="'Liberation Serif', 'DejaVu Serif', serif" fill="#1c1c1c" xml:space="preserve">+D-Pro</text>
<text transform="translate(669.72,2082.80) scale(0.8827,1.0000)" font-size="42.0" font-family="'Liberation Serif', 'DejaVu Serif', serif" fill="#1c1c1c" xml:space="preserve">2</text>
<text transform="translate(695.47,2061.90) scale(0.8939,1.0000)" font-size="53.5" font-family="'Liberation Serif', 'DejaVu Serif', serif" fill="#1c1c1c" xml:space="preserve">]</text>
<text transform="translate(714.95,2065.90) scale(0.9500,1.0000)" font-size="50.0" font-family="'Liberation Serif', 'DejaVu Serif', serif" fill="#1c1c1c" xml:space="preserve">H</text>
<text transform="translate(748.53,2040.70) scale(0.9722,1.0000)" font-size="48.0" font-family="'Liberation Serif', 'DejaVu Serif', serif" fill="#1c1c1c" xml:space="preserve">+</text>
</svg>
</body></html>
